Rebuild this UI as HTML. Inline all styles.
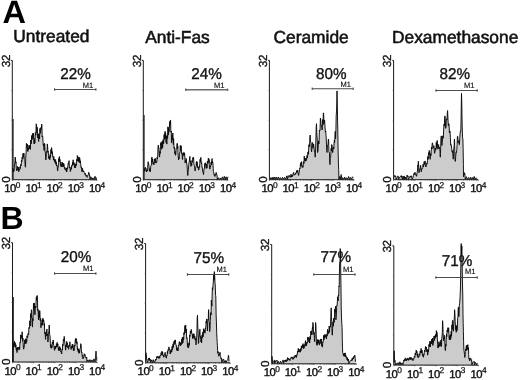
<!DOCTYPE html>
<html><head><meta charset="utf-8"><title>Figure</title>
<style>
html,body{margin:0;padding:0;background:#fff;}
body{width:520px;height:380px;overflow:hidden;position:relative;font-family:"Liberation Sans",sans-serif;}
</style></head><body>
<svg width="520" height="380" viewBox="0 0 520 380" style="position:absolute;left:0;top:0;display:block;will-change:transform">
<rect x="0" y="0" width="520" height="380" fill="#fff"/>
<g font-family="'Liberation Sans', sans-serif" fill="#111" text-rendering="geometricPrecision">
<text x="2.4" y="22.9" font-size="32.5" font-weight="bold" fill="#000">A</text>
<text x="0.6" y="229.1" font-size="32" font-weight="bold" fill="#000">B</text>
<text x="13.3" y="42" font-size="17.35" stroke="#111" stroke-width="0.55">Untreated</text>
<text x="145.2" y="43" font-size="17.35" stroke="#111" stroke-width="0.55">Anti-Fas</text>
<text x="273.5" y="42.8" font-size="17.35" stroke="#111" stroke-width="0.55">Ceramide</text>
<text x="392" y="42.7" font-size="17.35" stroke="#111" stroke-width="0.55">Dexamethasone</text>
<path d="M12.6 179.7L12.6 169.1L12.9 168.1L13.2 171.8L13.6 169L13.9 171.3L14.2 169.3L14.5 163.8L14.8 163.8L15.1 157.5L15.4 157.1L15.7 163.1L16 161.9L16.3 168.7L16.7 170.6L16.9 168.8L17.2 170.3L17.5 166.4L17.8 167.2L18.1 169.3L18.4 167L18.7 171.8L19 170.9L19.4 169.5L19.7 170L20 166.8L20.3 168.5L20.6 164.6L20.9 165.4L21.2 165.7L21.5 159.9L21.8 161.8L22.1 157.2L22.4 158L22.7 159L23 153.4L23.3 157.3L23.7 153.4L24 153L24.3 159.8L24.6 160.3L24.9 160.9L25.2 166.5L25.5 167.2L25.8 156.1L26.1 153.2L26.4 143.3L26.7 143.7L27 147.5L27.3 144.2L27.6 151.2L27.9 151.6L28.2 148.3L28.5 149.9L28.9 145.2L29.2 146.1L29.5 148.6L29.8 145.5L30.1 148.8L30.4 149.4L30.7 140.1L31 141.5L31.3 143.7L31.6 135.5L31.9 139.6L32.2 139.6L32.6 133.5L32.9 133.2L33.2 138.6L33.5 133.4L33.8 139.6L34.1 144L34.4 138.6L34.7 143.3L35 142.7L35.3 132.6L35.6 134.1L35.9 135.2L36.2 123.8L36.5 124.9L36.9 133L37.2 127.2L37.5 133.7L37.8 138L38.1 133.8L38.4 139.6L38.7 141.5L39 133.6L39.3 135.6L39.6 138.8L39.9 128.5L40.2 132.3L40.5 133.3L40.8 127.6L41.1 129.5L41.4 128.5L41.7 124L41.9 126.1L42.2 137L42.4 135.9L42.7 136.4L43 141.5L43.3 145.5L43.6 144L43.9 148.8L44.2 150.5L44.5 143.3L44.8 144.2L45.1 151.7L45.4 152.9L45.8 159.9L46.1 158.5L46.4 151.3L46.7 151.6L47 152.3L47.3 143.9L47.6 146.1L47.9 152.2L48.2 151.2L48.5 155.3L48.8 158.6L49.1 156.3L49.4 158L49.8 159.8L50.1 154.5L50.4 157.5L50.7 152.9L51 149.3L51.3 153.6L51.6 147.6L51.8 149.8L52.1 153.3L52.4 151.7L52.7 156.1L52.9 157.1L53.2 156.5L53.5 160L53.8 156.7L54 159.9L54.4 161.2L54.7 159.2L55 162.7L55.3 161.4L55.6 159.6L55.9 164.4L56.2 161.8L56.5 165.8L56.8 165.4L57.1 165.1L57.4 169.6L57.7 170.9L58 167.4L58.2 167.4L58.5 162.6L58.7 158.6L59 161.9L59.2 157.1L59.5 156.6L59.7 161.3L60 159.5L60.3 163.6L60.6 165.4L60.9 162L61.1 167L61.4 165.4L61.7 164.1L62.1 166.7L62.4 162.1L62.7 164.5L63 167L63.3 163.2L63.6 166.3L63.9 163.9L64.2 166.3L64.5 168.6L64.8 167.2L65.1 169.6L65.5 169.1L65.8 168.7L66 170.6L66.3 168L66.6 172L66.9 170.9L67.2 167.7L67.5 169.1L67.9 165.4L68.2 163.4L68.5 164.2L68.8 161.7L69.1 160.7L69.4 168L69.7 167.2L70 166.9L70.3 171.5L70.6 170.9L70.9 167.7L71.3 169.2L71.6 165.6L71.9 165.4L72.2 166.2L72.5 162.3L72.8 165L73.1 159.8L73.4 161.7L73.7 164.6L74 162.6L74.3 165.4L74.6 167.7L74.9 164.2L75.2 167.2L75.5 167.9L75.9 163.7L76.2 165.6L76.5 161.4L76.8 159.3L77.1 161.3L77.3 155.5L77.6 157.1L77.9 161L78.2 156.8L78.4 161.3L78.7 161.4L79 159L79.3 162.6L79.5 157.4L79.8 158L80.1 162.5L80.4 160.8L80.7 164.5L81.1 167.5L81.4 166.9L81.7 169.1L82 171.7L82.3 168L82.5 171.3L82.8 169.7L83.1 170.6L83.5 171.6L83.8 171L84.1 172.6L84.4 172.8L84.7 172.9L85.1 174.7L85.4 173.4L85.7 174.6L86 176.3L86.3 175.2L86.6 176.4L86.9 176.5L87.2 177.4L87.5 176.7L87.8 175.1L88.1 174.6L88.4 174.5L88.7 172.3L89 172.8L89.3 175.3L89.6 174.9L90 179.5L90.8 176.7L92 179.5L92.9 177.8L94 179.5L95 176.3L96.1 179.5L96.4 177.6L96.4 179.7Z" fill="#cccccc" stroke="none"/>
<path d="M12.6 169.1L12.9 168.1L13.2 171.8L13.6 169L13.9 171.3L14.2 169.3L14.5 163.8L14.8 163.8L15.1 157.5L15.4 157.1L15.7 163.1L16 161.9L16.3 168.7L16.7 170.6L16.9 168.8L17.2 170.3L17.5 166.4L17.8 167.2L18.1 169.3L18.4 167L18.7 171.8L19 170.9L19.4 169.5L19.7 170L20 166.8L20.3 168.5L20.6 164.6L20.9 165.4L21.2 165.7L21.5 159.9L21.8 161.8L22.1 157.2L22.4 158L22.7 159L23 153.4L23.3 157.3L23.7 153.4L24 153L24.3 159.8L24.6 160.3L24.9 160.9L25.2 166.5L25.5 167.2L25.8 156.1L26.1 153.2L26.4 143.3L26.7 143.7L27 147.5L27.3 144.2L27.6 151.2L27.9 151.6L28.2 148.3L28.5 149.9L28.9 145.2L29.2 146.1L29.5 148.6L29.8 145.5L30.1 148.8L30.4 149.4L30.7 140.1L31 141.5L31.3 143.7L31.6 135.5L31.9 139.6L32.2 139.6L32.6 133.5L32.9 133.2L33.2 138.6L33.5 133.4L33.8 139.6L34.1 144L34.4 138.6L34.7 143.3L35 142.7L35.3 132.6L35.6 134.1L35.9 135.2L36.2 123.8L36.5 124.9L36.9 133L37.2 127.2L37.5 133.7L37.8 138L38.1 133.8L38.4 139.6L38.7 141.5L39 133.6L39.3 135.6L39.6 138.8L39.9 128.5L40.2 132.3L40.5 133.3L40.8 127.6L41.1 129.5L41.4 128.5L41.7 124L41.9 126.1L42.2 137L42.4 135.9L42.7 136.4L43 141.5L43.3 145.5L43.6 144L43.9 148.8L44.2 150.5L44.5 143.3L44.8 144.2L45.1 151.7L45.4 152.9L45.8 159.9L46.1 158.5L46.4 151.3L46.7 151.6L47 152.3L47.3 143.9L47.6 146.1L47.9 152.2L48.2 151.2L48.5 155.3L48.8 158.6L49.1 156.3L49.4 158L49.8 159.8L50.1 154.5L50.4 157.5L50.7 152.9L51 149.3L51.3 153.6L51.6 147.6L51.8 149.8L52.1 153.3L52.4 151.7L52.7 156.1L52.9 157.1L53.2 156.5L53.5 160L53.8 156.7L54 159.9L54.4 161.2L54.7 159.2L55 162.7L55.3 161.4L55.6 159.6L55.9 164.4L56.2 161.8L56.5 165.8L56.8 165.4L57.1 165.1L57.4 169.6L57.7 170.9L58 167.4L58.2 167.4L58.5 162.6L58.7 158.6L59 161.9L59.2 157.1L59.5 156.6L59.7 161.3L60 159.5L60.3 163.6L60.6 165.4L60.9 162L61.1 167L61.4 165.4L61.7 164.1L62.1 166.7L62.4 162.1L62.7 164.5L63 167L63.3 163.2L63.6 166.3L63.9 163.9L64.2 166.3L64.5 168.6L64.8 167.2L65.1 169.6L65.5 169.1L65.8 168.7L66 170.6L66.3 168L66.6 172L66.9 170.9L67.2 167.7L67.5 169.1L67.9 165.4L68.2 163.4L68.5 164.2L68.8 161.7L69.1 160.7L69.4 168L69.7 167.2L70 166.9L70.3 171.5L70.6 170.9L70.9 167.7L71.3 169.2L71.6 165.6L71.9 165.4L72.2 166.2L72.5 162.3L72.8 165L73.1 159.8L73.4 161.7L73.7 164.6L74 162.6L74.3 165.4L74.6 167.7L74.9 164.2L75.2 167.2L75.5 167.9L75.9 163.7L76.2 165.6L76.5 161.4L76.8 159.3L77.1 161.3L77.3 155.5L77.6 157.1L77.9 161L78.2 156.8L78.4 161.3L78.7 161.4L79 159L79.3 162.6L79.5 157.4L79.8 158L80.1 162.5L80.4 160.8L80.7 164.5L81.1 167.5L81.4 166.9L81.7 169.1L82 171.7L82.3 168L82.5 171.3L82.8 169.7L83.1 170.6L83.5 171.6L83.8 171L84.1 172.6L84.4 172.8L84.7 172.9L85.1 174.7L85.4 173.4L85.7 174.6L86 176.3L86.3 175.2L86.6 176.4L86.9 176.5L87.2 177.4L87.5 176.7L87.8 175.1L88.1 174.6L88.4 174.5L88.7 172.3L89 172.8L89.3 175.3L89.6 174.9L90 179.5L90.8 176.7L92 179.5L92.9 177.8L94 179.5L95 176.3L96.1 179.5L96.4 177.6" fill="none" stroke="#0a0a0a" stroke-width="0.95" stroke-linejoin="miter" stroke-miterlimit="5"/>
<path d="M10.9 60.4L12.3 60.4L12.3 179.7L96.9 179.7" fill="none" stroke="#1a1a1a" stroke-width="1"/>
<path d="M13.1 119L13.1 179.7" stroke="#111" stroke-width="1" fill="none"/>
<path d="M11.4 150L12.3 150" stroke="#444" stroke-width="0.7"/>
<path d="M11.4 120.2L12.3 120.2" stroke="#444" stroke-width="0.7"/>
<path d="M11.4 90.5L12.3 90.5" stroke="#444" stroke-width="0.7"/>
<path d="M12.3 179.7L12.3 181M18.7 179.7L18.7 180.5M22.4 179.7L22.4 180.5M25 179.7L25 180.5M27.1 179.7L27.1 180.5M28.8 179.7L28.8 180.5M30.2 179.7L30.2 180.5M31.4 179.7L31.4 180.5M32.5 179.7L32.5 180.5M33.5 179.7L33.5 181M39.8 179.7L39.8 180.5M43.5 179.7L43.5 180.5M46.2 179.7L46.2 180.5M48.2 179.7L48.2 180.5M49.9 179.7L49.9 180.5M51.3 179.7L51.3 180.5M52.6 179.7L52.6 180.5M53.6 179.7L53.6 180.5M54.6 179.7L54.6 181M61 179.7L61 180.5M64.7 179.7L64.7 180.5M67.3 179.7L67.3 180.5M69.4 179.7L69.4 180.5M71.1 179.7L71.1 180.5M72.5 179.7L72.5 180.5M73.7 179.7L73.7 180.5M74.8 179.7L74.8 180.5M75.8 179.7L75.8 181M82.1 179.7L82.1 180.5M85.8 179.7L85.8 180.5M88.5 179.7L88.5 180.5M90.5 179.7L90.5 180.5M92.2 179.7L92.2 180.5M93.6 179.7L93.6 180.5M94.9 179.7L94.9 180.5M95.9 179.7L95.9 180.5M96.9 179.7L96.9 181" stroke="#333" stroke-width="0.6" fill="none"/>
<text x="4.3" y="192.2" font-size="11.3" letter-spacing="-0.5" stroke="#111" stroke-width="0.4">10<tspan font-size="8.4" dy="-4.2" dx="-0.1" stroke-width="0.25">0</tspan></text>
<text x="25.5" y="192.2" font-size="11.3" letter-spacing="-0.5" stroke="#111" stroke-width="0.4">10<tspan font-size="8.4" dy="-4.2" dx="-0.1" stroke-width="0.25">1</tspan></text>
<text x="46.6" y="192.2" font-size="11.3" letter-spacing="-0.5" stroke="#111" stroke-width="0.4">10<tspan font-size="8.4" dy="-4.2" dx="-0.1" stroke-width="0.25">2</tspan></text>
<text x="67.8" y="192.2" font-size="11.3" letter-spacing="-0.5" stroke="#111" stroke-width="0.4">10<tspan font-size="8.4" dy="-4.2" dx="-0.1" stroke-width="0.25">3</tspan></text>
<text x="88.9" y="192.2" font-size="11.3" letter-spacing="-0.5" stroke="#111" stroke-width="0.4">10<tspan font-size="8.4" dy="-4.2" dx="-0.1" stroke-width="0.25">4</tspan></text>
<text transform="translate(9.6 179.6) rotate(-90)" font-size="11.6" text-anchor="middle" stroke="#111" stroke-width="0.3">0</text>
<text transform="translate(9.7 61) rotate(-90)" font-size="11.7" text-anchor="middle" letter-spacing="-0.3" stroke="#111" stroke-width="0.3">32</text>
<text transform="translate(60.2 79) scale(0.976 1)" font-size="15.65" stroke="#111" stroke-width="0.35">22%</text>
<path d="M54.3 89.5L96.2 89.5M54.6 88.2L54.6 90.8M95.9 88.2L95.9 90.8" stroke="#3a3a3a" stroke-width="0.9" fill="none"/>
<text x="82.8" y="87.7" font-size="7.5" fill="#111" stroke="#111" stroke-width="0.15">M1</text>
<path d="M143.6 179.7L144.2 170.9L144.5 168.6L144.8 171.4L145.1 167.7L145.4 167.2L145.8 169.1L146.1 168.7L146.4 171.3L146.7 172L147 169.6L147.3 170.9L147.6 169.5L147.9 164.2L148.2 161.7L148.5 164.7L148.8 164.3L149.1 167.2L149.4 170.9L149.7 168.8L150 171.9L150.4 171.5L150.7 166.7L151 165.4L151.3 165.3L151.6 159.2L151.9 157.1L152.2 162L152.5 158.8L152.8 162.6L153.1 164.3L153.4 162.2L153.7 163.6L154 164.8L154.3 159L154.7 160.3L155 162.6L155.3 158.2L155.6 161.7L155.9 163.1L156.2 161.6L156.5 162.6L156.8 162.1L157.1 157.4L157.4 159L157.7 155.9L158 147.8L158.3 145.1L158.6 148.3L158.8 147.8L159.1 151.6L159.3 155.8L159.6 157.1L159.9 151.2L160.2 153.5L160.5 145.7L160.7 143.3L161 145.5L161.2 142L161.5 146.1L161.7 149.3L162 145.1L162.3 141L162.6 147.9L162.9 142.4L163.2 139.5L163.6 143.8L163.9 139.6L164.1 134.6L164.4 139.4L164.6 135L164.9 131.9L165.2 131.3L165.4 138.7L165.6 133.1L165.9 137.8L166.1 142.6L166.4 136.1L166.6 142.4L166.9 144.1L167.1 135.5L167.4 135L167.6 138.4L167.9 126.8L168.1 130.4L168.3 135.1L168.6 127.6L168.8 132.3L169.1 131.8L169.4 128.6L169.7 121.6L170 125.3L170.3 120.3L170.6 120.2L170.8 130L171 132.3L171.3 131.1L171.5 142.8L171.8 141.5L172 135.4L172.3 139.9L172.5 136.9L172.8 133L173.1 137.8L173.3 144.4L173.6 138.7L173.8 143.3L174.1 148.4L174.4 147L174.6 148L174.9 153.9L175.2 151.4L175.5 155.3L175.8 154L176.1 148.5L176.4 148.8L176.7 148.4L177 143.6L177.3 143.3L177.6 148.7L177.8 146.2L178 152.5L178.3 157.2L178.6 159.9L178.9 157.2L179.1 158.7L179.4 152.9L179.7 152.5L180 152.6L180.3 145.4L180.7 151L181 146.1L181.2 145.8L181.5 153.5L181.7 153.4L182 152.8L182.3 158L182.6 159.5L182.9 153.1L183.2 154.4L183.5 155.4L183.8 152.3L184.1 152.5L184.4 155.2L184.6 153.4L184.9 158L185.1 162.9L185.4 161.7L185.7 160.3L186 162.7L186.2 158.4L186.5 160.8L186.8 164.5L187 164.5L187.3 169.1L187.5 173.1L187.8 175.5L188.1 171.7L188.4 169.7L188.7 165.4L189 162.4L189.3 161.6L189.6 158L189.9 156.4L190.1 161.9L190.4 162.6L190.6 160.9L190.9 166.4L191.1 165.4L191.4 163.1L191.7 165.4L191.9 160.5L192.2 160.8L192.5 162.3L192.8 157.8L193.1 159.3L193.3 157.1L193.6 157.8L193.9 163.5L194.2 165.4L194.6 166L194.9 170.7L195.2 170.9L195.5 168.2L195.8 168.1L196.1 165.4L196.4 161.6L196.7 165.6L197 161.7L197.3 162.3L197.6 167.8L197.9 167.2L198.2 166.9L198.5 170L198.9 170L199.2 166.4L199.5 167.3L199.8 163.6L200.1 159.3L200.4 162.1L200.7 158L200.9 157.4L201.2 162.4L201.4 163.6L201.7 162.6L201.9 167.4L202.2 167.2L202.4 168.2L202.7 171L202.9 171.9L203.2 172.9L203.5 174.6L203.7 173L203.9 169.4L204.2 168.2L204.4 168.4L204.7 163.5L204.9 163.6L205.2 165.2L205.5 162.8L205.9 166.3L206.2 168.5L206.5 164.4L206.8 167.2L207.1 168.1L207.4 161L207.7 161.7L208 163.4L208.3 158.4L208.6 158L208.9 162.3L209.1 159.4L209.3 164.5L209.6 168L209.9 169.1L210.2 166.2L210.5 167.1L210.8 164.5L211.1 162.1L211.4 164.8L211.7 160.8L212.1 158.6L212.4 162.9L212.7 161.7L212.9 163L213.2 168.2L213.4 171.5L213.6 172.8L213.9 172.8L214.2 175.3L214.6 174.5L214.9 176.5L215.1 176.2L215.4 174.1L215.6 174.2L215.9 174.5L216.1 172.4L216.3 172.8L216.6 174.5L216.8 174.4L217.1 176.1L217.3 179.5L218.2 177.7L219.3 179.5L220.4 177.9L221.4 179.5L222.4 176.9L223.4 179.5L224.3 176.4L225.2 179.5L226.1 176.8L227.1 179.5L228 176.8L228 179.7Z" fill="#cccccc" stroke="none"/>
<path d="M144.2 170.9L144.5 168.6L144.8 171.4L145.1 167.7L145.4 167.2L145.8 169.1L146.1 168.7L146.4 171.3L146.7 172L147 169.6L147.3 170.9L147.6 169.5L147.9 164.2L148.2 161.7L148.5 164.7L148.8 164.3L149.1 167.2L149.4 170.9L149.7 168.8L150 171.9L150.4 171.5L150.7 166.7L151 165.4L151.3 165.3L151.6 159.2L151.9 157.1L152.2 162L152.5 158.8L152.8 162.6L153.1 164.3L153.4 162.2L153.7 163.6L154 164.8L154.3 159L154.7 160.3L155 162.6L155.3 158.2L155.6 161.7L155.9 163.1L156.2 161.6L156.5 162.6L156.8 162.1L157.1 157.4L157.4 159L157.7 155.9L158 147.8L158.3 145.1L158.6 148.3L158.8 147.8L159.1 151.6L159.3 155.8L159.6 157.1L159.9 151.2L160.2 153.5L160.5 145.7L160.7 143.3L161 145.5L161.2 142L161.5 146.1L161.7 149.3L162 145.1L162.3 141L162.6 147.9L162.9 142.4L163.2 139.5L163.6 143.8L163.9 139.6L164.1 134.6L164.4 139.4L164.6 135L164.9 131.9L165.2 131.3L165.4 138.7L165.6 133.1L165.9 137.8L166.1 142.6L166.4 136.1L166.6 142.4L166.9 144.1L167.1 135.5L167.4 135L167.6 138.4L167.9 126.8L168.1 130.4L168.3 135.1L168.6 127.6L168.8 132.3L169.1 131.8L169.4 128.6L169.7 121.6L170 125.3L170.3 120.3L170.6 120.2L170.8 130L171 132.3L171.3 131.1L171.5 142.8L171.8 141.5L172 135.4L172.3 139.9L172.5 136.9L172.8 133L173.1 137.8L173.3 144.4L173.6 138.7L173.8 143.3L174.1 148.4L174.4 147L174.6 148L174.9 153.9L175.2 151.4L175.5 155.3L175.8 154L176.1 148.5L176.4 148.8L176.7 148.4L177 143.6L177.3 143.3L177.6 148.7L177.8 146.2L178 152.5L178.3 157.2L178.6 159.9L178.9 157.2L179.1 158.7L179.4 152.9L179.7 152.5L180 152.6L180.3 145.4L180.7 151L181 146.1L181.2 145.8L181.5 153.5L181.7 153.4L182 152.8L182.3 158L182.6 159.5L182.9 153.1L183.2 154.4L183.5 155.4L183.8 152.3L184.1 152.5L184.4 155.2L184.6 153.4L184.9 158L185.1 162.9L185.4 161.7L185.7 160.3L186 162.7L186.2 158.4L186.5 160.8L186.8 164.5L187 164.5L187.3 169.1L187.5 173.1L187.8 175.5L188.1 171.7L188.4 169.7L188.7 165.4L189 162.4L189.3 161.6L189.6 158L189.9 156.4L190.1 161.9L190.4 162.6L190.6 160.9L190.9 166.4L191.1 165.4L191.4 163.1L191.7 165.4L191.9 160.5L192.2 160.8L192.5 162.3L192.8 157.8L193.1 159.3L193.3 157.1L193.6 157.8L193.9 163.5L194.2 165.4L194.6 166L194.9 170.7L195.2 170.9L195.5 168.2L195.8 168.1L196.1 165.4L196.4 161.6L196.7 165.6L197 161.7L197.3 162.3L197.6 167.8L197.9 167.2L198.2 166.9L198.5 170L198.9 170L199.2 166.4L199.5 167.3L199.8 163.6L200.1 159.3L200.4 162.1L200.7 158L200.9 157.4L201.2 162.4L201.4 163.6L201.7 162.6L201.9 167.4L202.2 167.2L202.4 168.2L202.7 171L202.9 171.9L203.2 172.9L203.5 174.6L203.7 173L203.9 169.4L204.2 168.2L204.4 168.4L204.7 163.5L204.9 163.6L205.2 165.2L205.5 162.8L205.9 166.3L206.2 168.5L206.5 164.4L206.8 167.2L207.1 168.1L207.4 161L207.7 161.7L208 163.4L208.3 158.4L208.6 158L208.9 162.3L209.1 159.4L209.3 164.5L209.6 168L209.9 169.1L210.2 166.2L210.5 167.1L210.8 164.5L211.1 162.1L211.4 164.8L211.7 160.8L212.1 158.6L212.4 162.9L212.7 161.7L212.9 163L213.2 168.2L213.4 171.5L213.6 172.8L213.9 172.8L214.2 175.3L214.6 174.5L214.9 176.5L215.1 176.2L215.4 174.1L215.6 174.2L215.9 174.5L216.1 172.4L216.3 172.8L216.6 174.5L216.8 174.4L217.1 176.1L217.3 179.5L218.2 177.7L219.3 179.5L220.4 177.9L221.4 179.5L222.4 176.9L223.4 179.5L224.3 176.4L225.2 179.5L226.1 176.8L227.1 179.5L228 176.8" fill="none" stroke="#0a0a0a" stroke-width="0.95" stroke-linejoin="miter" stroke-miterlimit="5"/>
<path d="M141.9 60.4L143.3 60.4L143.3 179.7L227.9 179.7" fill="none" stroke="#1a1a1a" stroke-width="1"/>
<path d="M144.1 115L144.1 179.7" stroke="#111" stroke-width="1" fill="none"/>
<path d="M142.4 150L143.3 150" stroke="#444" stroke-width="0.7"/>
<path d="M142.4 120.2L143.3 120.2" stroke="#444" stroke-width="0.7"/>
<path d="M142.4 90.5L143.3 90.5" stroke="#444" stroke-width="0.7"/>
<path d="M143.3 179.7L143.3 181M149.7 179.7L149.7 180.5M153.4 179.7L153.4 180.5M156 179.7L156 180.5M158.1 179.7L158.1 180.5M159.8 179.7L159.8 180.5M161.2 179.7L161.2 180.5M162.4 179.7L162.4 180.5M163.5 179.7L163.5 180.5M164.5 179.7L164.5 181M170.8 179.7L170.8 180.5M174.5 179.7L174.5 180.5M177.2 179.7L177.2 180.5M179.2 179.7L179.2 180.5M180.9 179.7L180.9 180.5M182.3 179.7L182.3 180.5M183.6 179.7L183.6 180.5M184.6 179.7L184.6 180.5M185.6 179.7L185.6 181M192 179.7L192 180.5M195.7 179.7L195.7 180.5M198.3 179.7L198.3 180.5M200.4 179.7L200.4 180.5M202.1 179.7L202.1 180.5M203.5 179.7L203.5 180.5M204.7 179.7L204.7 180.5M205.8 179.7L205.8 180.5M206.8 179.7L206.8 181M213.1 179.7L213.1 180.5M216.8 179.7L216.8 180.5M219.5 179.7L219.5 180.5M221.5 179.7L221.5 180.5M223.2 179.7L223.2 180.5M224.6 179.7L224.6 180.5M225.9 179.7L225.9 180.5M226.9 179.7L226.9 180.5M227.9 179.7L227.9 181" stroke="#333" stroke-width="0.6" fill="none"/>
<text x="135.3" y="192.2" font-size="11.3" letter-spacing="-0.5" stroke="#111" stroke-width="0.4">10<tspan font-size="8.4" dy="-4.2" dx="-0.1" stroke-width="0.25">0</tspan></text>
<text x="156.5" y="192.2" font-size="11.3" letter-spacing="-0.5" stroke="#111" stroke-width="0.4">10<tspan font-size="8.4" dy="-4.2" dx="-0.1" stroke-width="0.25">1</tspan></text>
<text x="177.6" y="192.2" font-size="11.3" letter-spacing="-0.5" stroke="#111" stroke-width="0.4">10<tspan font-size="8.4" dy="-4.2" dx="-0.1" stroke-width="0.25">2</tspan></text>
<text x="198.8" y="192.2" font-size="11.3" letter-spacing="-0.5" stroke="#111" stroke-width="0.4">10<tspan font-size="8.4" dy="-4.2" dx="-0.1" stroke-width="0.25">3</tspan></text>
<text x="219.9" y="192.2" font-size="11.3" letter-spacing="-0.5" stroke="#111" stroke-width="0.4">10<tspan font-size="8.4" dy="-4.2" dx="-0.1" stroke-width="0.25">4</tspan></text>
<text transform="translate(140.6 179.6) rotate(-90)" font-size="11.6" text-anchor="middle" stroke="#111" stroke-width="0.3">0</text>
<text transform="translate(140.7 61) rotate(-90)" font-size="11.7" text-anchor="middle" letter-spacing="-0.3" stroke="#111" stroke-width="0.3">32</text>
<text transform="translate(191.3 79.4) scale(0.976 1)" font-size="15.65" stroke="#111" stroke-width="0.35">24%</text>
<path d="M185.4 89.8L227.9 89.8M185.7 88.5L185.7 91.1M227.6 88.5L227.6 91.1" stroke="#6a6a6a" stroke-width="1.4" fill="none"/>
<text x="214.1" y="87.7" font-size="7.5" fill="#111" stroke="#111" stroke-width="0.15">M1</text>
<path d="M269.7 179.7L269.9 179.5L271 177.5L272.1 179.5L273 177L273.9 179.5L274.9 177L275.7 179.5L276.6 177L277.6 179.5L278.5 177L279.5 179.5L280.5 177.7L281.6 179.5L282.5 177.3L283.5 179.5L284.6 177.3L285.6 179.5L286.7 176.4L286.7 177.1L287 175.8L287.3 179.5L288.2 176.7L288.7 177.3L289 175.2L289.3 175.4L289.7 176.8L290 177L290.3 176.3L290.6 177.3L291 174.2L291.3 175.2L291.6 177.1L292 175L292.3 176.6L292.6 176.2L292.9 174.2L293.1 174.1L293.4 172.7L293.7 172.3L294.1 175.3L294.4 175L294.7 174.3L295.1 174.9L295.4 174.1L295.7 172.9L296.1 173.4L296.4 172L296.7 170.6L297.1 172.5L297.4 170L297.8 170.7L298.1 173L298.4 175.3L298.7 175.4L299 172.7L299.2 172.4L299.5 169.3L299.8 168L300.1 168.5L300.5 163.4L300.8 162.6L301.1 165.9L301.5 161.7L301.8 165.5L302.1 167.3L302.5 165.8L302.8 167.3L303.1 167.3L303.4 161.6L303.7 162L304 163.5L304.2 156.2L304.5 157.9L304.8 161L305 158.1L305.3 160L305.6 161.3L305.9 158.2L306.2 159.3L306.5 160.4L306.9 155.5L307.2 156L307.5 157.8L307.9 151.9L308.2 152.5L308.4 154.4L308.7 149L308.9 144.7L309.2 146.5L309.5 146.9L309.9 136.7L310.2 135L310.5 141.2L310.8 143L311.1 143.5L311.3 149.8L311.6 151.8L312 146L312.3 142.4L312.6 143.1L313 148.3L313.3 146L313.6 143.9L314 147.2L314.3 151.1L314.6 152L314.9 153L315.2 157.2L315.5 152.2L315.9 140L316.2 127.2L316.5 123.7L316.8 132.6L317.1 138L317.4 141.7L317.6 152.5L317.9 151L318.2 147L318.4 140.9L318.7 143.1L319 143.9L319.4 130L319.7 131L320 130.8L320.4 118.1L320.7 120L321 125.7L321.4 126L321.7 125.4L322 130L322.3 129.2L322.5 119.6L322.8 121L323.1 124.8L323.3 112.9L323.6 113L324 123.2L324.3 120L324.6 120.5L325 127L325.4 132.1L325.7 131L326 134.6L326.4 142L326.7 149L327 152.5L327.4 145.8L327.7 145L328 144.3L328.4 139L328.7 140.9L328.9 151.8L329.2 152L329.5 153.8L329.7 162.1L330 164.6L330.3 158.5L330.6 157.6L330.9 153L331.2 148.1L331.4 151L331.7 144.5L332 144.8L332.3 149L332.6 152.5L332.8 152.5L333.1 147.8L333.5 147L333.8 148.9L334.1 143.1L334.4 140.1L334.6 142.7L334.9 138L335.2 131.5L335.6 138.7L335.9 131L336.2 115.8L336.6 110L336.8 101.8L337 90.9L337.2 98.3L337.4 110L337.6 121.1L337.8 131L338.1 150L338.5 166L338.7 169.6L338.9 179.5L339.8 176.4L340.8 179.5L340.8 176.9L341.1 174.5L341.5 175.7L341.8 179.5L342.7 177.7L343.8 179.5L344.7 177.1L345.6 179.5L346.6 177.8L347.6 179.5L348.6 176.5L349.5 179.5L350.4 177.4L351.5 179.5L352.5 176.8L353.3 177.6L353.3 179.7Z" fill="#cccccc" stroke="none"/>
<path d="M269.9 179.5L271 177.5L272.1 179.5L273 177L273.9 179.5L274.9 177L275.7 179.5L276.6 177L277.6 179.5L278.5 177L279.5 179.5L280.5 177.7L281.6 179.5L282.5 177.3L283.5 179.5L284.6 177.3L285.6 179.5L286.7 176.4L286.7 177.1L287 175.8L287.3 179.5L288.2 176.7L288.7 177.3L289 175.2L289.3 175.4L289.7 176.8L290 177L290.3 176.3L290.6 177.3L291 174.2L291.3 175.2L291.6 177.1L292 175L292.3 176.6L292.6 176.2L292.9 174.2L293.1 174.1L293.4 172.7L293.7 172.3L294.1 175.3L294.4 175L294.7 174.3L295.1 174.9L295.4 174.1L295.7 172.9L296.1 173.4L296.4 172L296.7 170.6L297.1 172.5L297.4 170L297.8 170.7L298.1 173L298.4 175.3L298.7 175.4L299 172.7L299.2 172.4L299.5 169.3L299.8 168L300.1 168.5L300.5 163.4L300.8 162.6L301.1 165.9L301.5 161.7L301.8 165.5L302.1 167.3L302.5 165.8L302.8 167.3L303.1 167.3L303.4 161.6L303.7 162L304 163.5L304.2 156.2L304.5 157.9L304.8 161L305 158.1L305.3 160L305.6 161.3L305.9 158.2L306.2 159.3L306.5 160.4L306.9 155.5L307.2 156L307.5 157.8L307.9 151.9L308.2 152.5L308.4 154.4L308.7 149L308.9 144.7L309.2 146.5L309.5 146.9L309.9 136.7L310.2 135L310.5 141.2L310.8 143L311.1 143.5L311.3 149.8L311.6 151.8L312 146L312.3 142.4L312.6 143.1L313 148.3L313.3 146L313.6 143.9L314 147.2L314.3 151.1L314.6 152L314.9 153L315.2 157.2L315.5 152.2L315.9 140L316.2 127.2L316.5 123.7L316.8 132.6L317.1 138L317.4 141.7L317.6 152.5L317.9 151L318.2 147L318.4 140.9L318.7 143.1L319 143.9L319.4 130L319.7 131L320 130.8L320.4 118.1L320.7 120L321 125.7L321.4 126L321.7 125.4L322 130L322.3 129.2L322.5 119.6L322.8 121L323.1 124.8L323.3 112.9L323.6 113L324 123.2L324.3 120L324.6 120.5L325 127L325.4 132.1L325.7 131L326 134.6L326.4 142L326.7 149L327 152.5L327.4 145.8L327.7 145L328 144.3L328.4 139L328.7 140.9L328.9 151.8L329.2 152L329.5 153.8L329.7 162.1L330 164.6L330.3 158.5L330.6 157.6L330.9 153L331.2 148.1L331.4 151L331.7 144.5L332 144.8L332.3 149L332.6 152.5L332.8 152.5L333.1 147.8L333.5 147L333.8 148.9L334.1 143.1L334.4 140.1L334.6 142.7L334.9 138L335.2 131.5L335.6 138.7L335.9 131L336.2 115.8L336.6 110L336.8 101.8L337 90.9L337.2 98.3L337.4 110L337.6 121.1L337.8 131L338.1 150L338.5 166L338.7 169.6L338.9 179.5L339.8 176.4L340.8 179.5L340.8 176.9L341.1 174.5L341.5 175.7L341.8 179.5L342.7 177.7L343.8 179.5L344.7 177.1L345.6 179.5L346.6 177.8L347.6 179.5L348.6 176.5L349.5 179.5L350.4 177.4L351.5 179.5L352.5 176.8L353.3 177.6" fill="none" stroke="#0a0a0a" stroke-width="0.95" stroke-linejoin="miter" stroke-miterlimit="5"/>
<path d="M268 60.4L269.4 60.4L269.4 179.7L354 179.7" fill="none" stroke="#1a1a1a" stroke-width="1"/>
<path d="M268.5 150L269.4 150" stroke="#444" stroke-width="0.7"/>
<path d="M268.5 120.2L269.4 120.2" stroke="#444" stroke-width="0.7"/>
<path d="M268.5 90.5L269.4 90.5" stroke="#444" stroke-width="0.7"/>
<path d="M269.4 179.7L269.4 181M275.8 179.7L275.8 180.5M279.5 179.7L279.5 180.5M282.1 179.7L282.1 180.5M284.2 179.7L284.2 180.5M285.9 179.7L285.9 180.5M287.3 179.7L287.3 180.5M288.5 179.7L288.5 180.5M289.6 179.7L289.6 180.5M290.5 179.7L290.5 181M296.9 179.7L296.9 180.5M300.6 179.7L300.6 180.5M303.3 179.7L303.3 180.5M305.3 179.7L305.3 180.5M307 179.7L307 180.5M308.4 179.7L308.4 180.5M309.7 179.7L309.7 180.5M310.7 179.7L310.7 180.5M311.7 179.7L311.7 181M318.1 179.7L318.1 180.5M321.8 179.7L321.8 180.5M324.4 179.7L324.4 180.5M326.5 179.7L326.5 180.5M328.2 179.7L328.2 180.5M329.6 179.7L329.6 180.5M330.8 179.7L330.8 180.5M331.9 179.7L331.9 180.5M332.8 179.7L332.8 181M339.2 179.7L339.2 180.5M342.9 179.7L342.9 180.5M345.6 179.7L345.6 180.5M347.6 179.7L347.6 180.5M349.3 179.7L349.3 180.5M350.7 179.7L350.7 180.5M352 179.7L352 180.5M353 179.7L353 180.5M354 179.7L354 181" stroke="#333" stroke-width="0.6" fill="none"/>
<text x="261.4" y="192.2" font-size="11.3" letter-spacing="-0.5" stroke="#111" stroke-width="0.4">10<tspan font-size="8.4" dy="-4.2" dx="-0.1" stroke-width="0.25">0</tspan></text>
<text x="282.5" y="192.2" font-size="11.3" letter-spacing="-0.5" stroke="#111" stroke-width="0.4">10<tspan font-size="8.4" dy="-4.2" dx="-0.1" stroke-width="0.25">1</tspan></text>
<text x="303.7" y="192.2" font-size="11.3" letter-spacing="-0.5" stroke="#111" stroke-width="0.4">10<tspan font-size="8.4" dy="-4.2" dx="-0.1" stroke-width="0.25">2</tspan></text>
<text x="324.8" y="192.2" font-size="11.3" letter-spacing="-0.5" stroke="#111" stroke-width="0.4">10<tspan font-size="8.4" dy="-4.2" dx="-0.1" stroke-width="0.25">3</tspan></text>
<text x="346" y="192.2" font-size="11.3" letter-spacing="-0.5" stroke="#111" stroke-width="0.4">10<tspan font-size="8.4" dy="-4.2" dx="-0.1" stroke-width="0.25">4</tspan></text>
<text transform="translate(266.7 179.6) rotate(-90)" font-size="11.6" text-anchor="middle" stroke="#111" stroke-width="0.3">0</text>
<text transform="translate(266.8 61) rotate(-90)" font-size="11.7" text-anchor="middle" letter-spacing="-0.3" stroke="#111" stroke-width="0.3">32</text>
<text transform="translate(316.1 79) scale(0.976 1)" font-size="15.65" stroke="#111" stroke-width="0.35">80%</text>
<path d="M311.9 88.8L353.5 88.8M312.2 87.5L312.2 90.1M353.2 87.5L353.2 90.1" stroke="#4a4a4a" stroke-width="1.05" fill="none"/>
<text x="340.6" y="87.3" font-size="7.5" fill="#111" stroke="#111" stroke-width="0.15">M1</text>
<path d="M393.9 179.7L393.8 176.8L394.1 176.5L394.5 176.8L394.8 175.3L395.1 175.8L395.4 176.5L395.8 176.1L396.1 179.5L397.2 177.7L397.6 176.7L397.9 175.9L398.2 176.1L398.5 179.5L399.6 177.2L400.7 176.8L401 175.6L401.3 175.8L401.6 177.1L401.9 175.9L402.2 179.5L403.1 176.3L404 179.5L404 176.1L404.3 176.1L404.6 179.5L405.5 177.2L406.3 179.5L406.8 176.6L407.1 175L407.4 175.8L407.7 176.8L408 175.9L408.3 179.5L409.4 177.9L410.1 176.1L410.4 176.1L410.8 177.3L411.1 175.9L411.4 176.4L411.7 175.8L412 179.5L413.1 177.4L413.3 176.6L413.6 175.4L414 173.4L414.3 174.6L414.7 172.7L415.1 172.2L415.4 174.7L415.8 174.7L416.1 174.4L416.4 176.3L416.7 176.1L417 172.8L417.2 172.4L417.5 170L417.8 165L418.1 166.5L418.3 161.3L418.5 162.4L418.7 168L418.9 172.6L419.1 172.7L419.5 169.2L419.8 168.7L420.1 169.4L420.5 165.3L420.7 165.3L421 168.7L421.2 171.9L421.4 171.4L421.8 168.6L422.1 169L422.4 168.7L422.8 167.3L423.1 164.2L423.5 166.8L423.8 164.6L424.2 161.6L424.5 164.5L424.8 162L425.1 160.9L425.5 164.6L425.8 167L426.1 166.7L426.5 163.4L426.8 163.3L427.1 164.1L427.5 160.6L427.8 156.5L428.1 159.4L428.4 155.2L428.7 152.5L429 155.2L429.2 150.5L429.5 151L429.8 155.2L430 158.8L430.2 159.3L430.5 153.5L430.9 155.8L431.2 151.2L431.6 147L431.9 149.1L432.2 143.1L432.5 142.9L432.9 145.5L433.2 148.2L433.5 147.2L433.9 145.7L434.2 149.8L434.5 153.3L434.9 152.5L435.2 148L435.6 150.3L436 147.8L436.3 142.3L436.6 148.3L436.9 143.1L437.2 140.5L437.6 146.1L437.9 149.2L438.2 148.5L438.6 144.5L438.9 147.4L439.3 148.6L439.6 147.2L439.8 147.1L440 152.5L440.3 157.2L440.5 153.7L440.7 147.2L440.9 139.1L441.3 135.9L441.6 141.1L441.9 145.6L442.3 142.4L442.6 136L443 136.4L443.3 138.2L443.6 131L443.9 125.4L444.1 124L444.4 126.1L444.7 116.3L445 115.9L445.4 122L445.7 128.3L446 126L446.4 118.8L446.7 119L447 119.8L447.3 113L447.6 110.6L448 120L448.3 125.7L448.6 125L448.9 123.7L449.2 128L449.4 132.8L449.7 131L450 130.9L450.4 137.7L450.7 145.3L451 144.5L451.4 145.4L451.7 148.5L452 151.6L452.4 152.5L452.6 150.7L452.9 155.5L453.2 159.2L453.5 157.9L453.7 149.4L454 147.2L454.2 145.5L454.4 139.1L454.6 141.2L454.8 151.2L455.1 161.3L455.4 161.3L455.7 156.6L456.1 152L456.4 152.5L456.8 149.7L457.1 144.5L457.4 136.4L457.8 136.4L458.1 142.6L458.4 141.1L458.8 140.7L459.1 144.5L459.4 144.7L459.8 137.7L460.1 133.2L460.5 131L460.8 131L461.1 118L461.3 104L461.5 93.4L461.8 104L462 118L462.3 131L462.6 137.8L462.9 139.1L463.1 147.2L463.4 164.6L463.5 176.8L463.8 174.3L464.1 174.1L464.3 174.6L464.5 172.7L464.8 173.5L465 176.1L465.3 179.5L466.4 176.7L467.3 179.5L468.5 177.5L469.5 179.5L470.4 177.3L471.3 179.5L472.2 177.4L473.2 179.5L474.2 176.5L475.1 179.5L476.1 177.8L477 178.8L477 179.7Z" fill="#cccccc" stroke="none"/>
<path d="M393.8 176.8L394.1 176.5L394.5 176.8L394.8 175.3L395.1 175.8L395.4 176.5L395.8 176.1L396.1 179.5L397.2 177.7L397.6 176.7L397.9 175.9L398.2 176.1L398.5 179.5L399.6 177.2L400.7 176.8L401 175.6L401.3 175.8L401.6 177.1L401.9 175.9L402.2 179.5L403.1 176.3L404 179.5L404 176.1L404.3 176.1L404.6 179.5L405.5 177.2L406.3 179.5L406.8 176.6L407.1 175L407.4 175.8L407.7 176.8L408 175.9L408.3 179.5L409.4 177.9L410.1 176.1L410.4 176.1L410.8 177.3L411.1 175.9L411.4 176.4L411.7 175.8L412 179.5L413.1 177.4L413.3 176.6L413.6 175.4L414 173.4L414.3 174.6L414.7 172.7L415.1 172.2L415.4 174.7L415.8 174.7L416.1 174.4L416.4 176.3L416.7 176.1L417 172.8L417.2 172.4L417.5 170L417.8 165L418.1 166.5L418.3 161.3L418.5 162.4L418.7 168L418.9 172.6L419.1 172.7L419.5 169.2L419.8 168.7L420.1 169.4L420.5 165.3L420.7 165.3L421 168.7L421.2 171.9L421.4 171.4L421.8 168.6L422.1 169L422.4 168.7L422.8 167.3L423.1 164.2L423.5 166.8L423.8 164.6L424.2 161.6L424.5 164.5L424.8 162L425.1 160.9L425.5 164.6L425.8 167L426.1 166.7L426.5 163.4L426.8 163.3L427.1 164.1L427.5 160.6L427.8 156.5L428.1 159.4L428.4 155.2L428.7 152.5L429 155.2L429.2 150.5L429.5 151L429.8 155.2L430 158.8L430.2 159.3L430.5 153.5L430.9 155.8L431.2 151.2L431.6 147L431.9 149.1L432.2 143.1L432.5 142.9L432.9 145.5L433.2 148.2L433.5 147.2L433.9 145.7L434.2 149.8L434.5 153.3L434.9 152.5L435.2 148L435.6 150.3L436 147.8L436.3 142.3L436.6 148.3L436.9 143.1L437.2 140.5L437.6 146.1L437.9 149.2L438.2 148.5L438.6 144.5L438.9 147.4L439.3 148.6L439.6 147.2L439.8 147.1L440 152.5L440.3 157.2L440.5 153.7L440.7 147.2L440.9 139.1L441.3 135.9L441.6 141.1L441.9 145.6L442.3 142.4L442.6 136L443 136.4L443.3 138.2L443.6 131L443.9 125.4L444.1 124L444.4 126.1L444.7 116.3L445 115.9L445.4 122L445.7 128.3L446 126L446.4 118.8L446.7 119L447 119.8L447.3 113L447.6 110.6L448 120L448.3 125.7L448.6 125L448.9 123.7L449.2 128L449.4 132.8L449.7 131L450 130.9L450.4 137.7L450.7 145.3L451 144.5L451.4 145.4L451.7 148.5L452 151.6L452.4 152.5L452.6 150.7L452.9 155.5L453.2 159.2L453.5 157.9L453.7 149.4L454 147.2L454.2 145.5L454.4 139.1L454.6 141.2L454.8 151.2L455.1 161.3L455.4 161.3L455.7 156.6L456.1 152L456.4 152.5L456.8 149.7L457.1 144.5L457.4 136.4L457.8 136.4L458.1 142.6L458.4 141.1L458.8 140.7L459.1 144.5L459.4 144.7L459.8 137.7L460.1 133.2L460.5 131L460.8 131L461.1 118L461.3 104L461.5 93.4L461.8 104L462 118L462.3 131L462.6 137.8L462.9 139.1L463.1 147.2L463.4 164.6L463.5 176.8L463.8 174.3L464.1 174.1L464.3 174.6L464.5 172.7L464.8 173.5L465 176.1L465.3 179.5L466.4 176.7L467.3 179.5L468.5 177.5L469.5 179.5L470.4 177.3L471.3 179.5L472.2 177.4L473.2 179.5L474.2 176.5L475.1 179.5L476.1 177.8L477 178.8" fill="none" stroke="#0a0a0a" stroke-width="0.95" stroke-linejoin="miter" stroke-miterlimit="5"/>
<path d="M392.2 60.4L393.6 60.4L393.6 179.7L478.2 179.7" fill="none" stroke="#1a1a1a" stroke-width="1"/>
<path d="M392.7 150L393.6 150" stroke="#444" stroke-width="0.7"/>
<path d="M392.7 120.2L393.6 120.2" stroke="#444" stroke-width="0.7"/>
<path d="M392.7 90.5L393.6 90.5" stroke="#444" stroke-width="0.7"/>
<path d="M393.6 179.7L393.6 181M400 179.7L400 180.5M403.7 179.7L403.7 180.5M406.3 179.7L406.3 180.5M408.4 179.7L408.4 180.5M410.1 179.7L410.1 180.5M411.5 179.7L411.5 180.5M412.7 179.7L412.7 180.5M413.8 179.7L413.8 180.5M414.8 179.7L414.8 181M421.1 179.7L421.1 180.5M424.8 179.7L424.8 180.5M427.5 179.7L427.5 180.5M429.5 179.7L429.5 180.5M431.2 179.7L431.2 180.5M432.6 179.7L432.6 180.5M433.9 179.7L433.9 180.5M434.9 179.7L434.9 180.5M435.9 179.7L435.9 181M442.3 179.7L442.3 180.5M446 179.7L446 180.5M448.6 179.7L448.6 180.5M450.7 179.7L450.7 180.5M452.4 179.7L452.4 180.5M453.8 179.7L453.8 180.5M455 179.7L455 180.5M456.1 179.7L456.1 180.5M457.1 179.7L457.1 181M463.4 179.7L463.4 180.5M467.1 179.7L467.1 180.5M469.8 179.7L469.8 180.5M471.8 179.7L471.8 180.5M473.5 179.7L473.5 180.5M474.9 179.7L474.9 180.5M476.2 179.7L476.2 180.5M477.2 179.7L477.2 180.5M478.2 179.7L478.2 181" stroke="#333" stroke-width="0.6" fill="none"/>
<text x="385.6" y="192.2" font-size="11.3" letter-spacing="-0.5" stroke="#111" stroke-width="0.4">10<tspan font-size="8.4" dy="-4.2" dx="-0.1" stroke-width="0.25">0</tspan></text>
<text x="406.8" y="192.2" font-size="11.3" letter-spacing="-0.5" stroke="#111" stroke-width="0.4">10<tspan font-size="8.4" dy="-4.2" dx="-0.1" stroke-width="0.25">1</tspan></text>
<text x="427.9" y="192.2" font-size="11.3" letter-spacing="-0.5" stroke="#111" stroke-width="0.4">10<tspan font-size="8.4" dy="-4.2" dx="-0.1" stroke-width="0.25">2</tspan></text>
<text x="449.1" y="192.2" font-size="11.3" letter-spacing="-0.5" stroke="#111" stroke-width="0.4">10<tspan font-size="8.4" dy="-4.2" dx="-0.1" stroke-width="0.25">3</tspan></text>
<text x="470.2" y="192.2" font-size="11.3" letter-spacing="-0.5" stroke="#111" stroke-width="0.4">10<tspan font-size="8.4" dy="-4.2" dx="-0.1" stroke-width="0.25">4</tspan></text>
<text transform="translate(390.9 179.6) rotate(-90)" font-size="11.6" text-anchor="middle" stroke="#111" stroke-width="0.3">0</text>
<text transform="translate(391 61) rotate(-90)" font-size="11.7" text-anchor="middle" letter-spacing="-0.3" stroke="#111" stroke-width="0.3">32</text>
<text transform="translate(439.6 79) scale(0.976 1)" font-size="15.65" stroke="#111" stroke-width="0.35">82%</text>
<path d="M435.7 90.5L477.5 90.5M436 89.2L436 91.8M477.2 89.2L477.2 91.8" stroke="#3a3a3a" stroke-width="0.9" fill="none"/>
<text x="464.1" y="88.3" font-size="7.5" fill="#111" stroke="#111" stroke-width="0.15">M1</text>
<path d="M12.8 362L12.7 352.9L12.9 348.1L13.2 347.4L13.4 348.2L13.6 343.7L13.9 342.8L14.1 344.8L14.4 341.2L14.6 344.1L14.9 346.8L15.1 342.6L15.4 344.6L15.6 347.3L15.9 344.7L16.1 348.3L16.3 349.8L16.6 348.2L16.8 351.1L17.1 352.6L17.3 347.2L17.6 348.9L17.9 350.3L18.1 347.4L18.4 347.3L18.7 348.5L18.9 349.3L19.2 347L19.4 349.2L19.7 349.6L19.9 342.4L20.2 342.3L20.4 342.8L20.6 334.9L20.9 336.4L21.1 337.2L21.4 335L21.6 335.6L21.9 338.7L22.1 331.8L22.4 335.4L22.6 341.1L22.9 338.1L23.1 342.8L23.4 347.7L23.7 349.2L23.9 346.6L24.1 347.2L24.4 344.1L24.7 340.1L24.9 340L25.2 343.7L25.4 338.8L25.7 341.1L25.9 343.7L26.2 338.9L26.4 341.9L26.7 342.3L27 335.8L27.3 337.5L27.6 337.6L28 333.3L28.3 333.6L28.6 334.7L28.9 327.6L29.2 328.3L29.5 328.4L29.8 320.8L30.1 323.5L30.3 326L30.6 313.7L30.8 316.1L31.1 317.9L31.4 309.7L31.7 310.7L31.9 318.9L32.2 325.5L32.5 327.1L32.7 318.4L33 320.8L33.2 314.3L33.5 303.9L33.8 303.2L34 309.4L34.3 302.9L34.5 309.1L34.8 314.9L35.1 314.3L35.3 308.8L35.6 306L35.9 307.7L36.2 298.6L36.4 296.7L36.7 300.6L36.9 299.2L37.2 295.5L37.5 299.5L37.7 310.5L38 309.1L38.2 312.4L38.4 317.9L38.6 319.9L38.9 310.8L39.1 313.9L39.4 317.7L39.7 310.6L39.9 311.9L40.2 320.6L40.4 318.3L40.7 318.8L40.9 327.7L41.1 325.3L41.4 323.3L41.6 325.3L41.9 322.7L42.1 319.8L42.4 325.2L42.6 320.7L42.9 318.2L43.1 322.1L43.4 321.3L43.6 319.7L43.9 321.6L44.2 325.3L44.4 323.5L44.6 329.9L44.9 333.6L45.1 332.1L45.4 337.3L45.6 339.4L45.9 332.6L46.1 333.8L46.4 335.7L46.7 330.8L46.9 329L47.2 335.6L47.4 335.6L47.7 334.2L47.9 342L48.1 340L48.4 333.7L48.7 332.3L48.9 333L49.1 325.3L49.3 325L49.6 334.5L49.8 334.9L50.1 336.2L50.4 343.7L50.6 347.4L50.8 344.4L51.1 345.7L51.3 348.4L51.6 345.7L51.8 347.4L52.1 347.5L52.3 342.1L52.6 343.4L52.8 343.9L53.1 340L53.4 341.2L53.6 345.3L53.9 345.6L54.1 347.2L54.4 350.2L54.7 350.3L54.9 346.2L55.1 348.1L55.4 348.8L55.6 346.1L55.9 346.5L56.1 347.5L56.4 343.8L56.6 345L56.9 346.9L57.1 342.4L57.4 343.7L57.6 346L57.8 343.9L58.1 347.2L58.4 349.5L58.6 350.2L58.9 347.5L59.1 350.9L59.4 348.5L59.7 346.5L59.9 347.4L60.2 349.7L60.4 347.9L60.7 350.4L60.9 352.1L61.2 351.4L61.4 352.9L61.7 354L61.9 349.4L62.1 349.1L62.4 350.1L62.6 344.3L62.9 345.6L63.1 345.6L63.4 339.3L63.6 340.8L63.9 340L64.2 336.4L64.4 337.7L64.7 342.1L64.9 343.2L65.2 345.2L65.5 349.2L65.7 350.2L65.9 345L66.2 345.4L66.4 347.1L66.7 341.4L66.9 341.9L67.2 344.4L67.4 343.3L67.7 345.7L67.9 347.7L68.2 345.4L68.4 349.2L68.7 349.2L68.9 346.3L69.1 346.3L69.4 346.6L69.7 343.7L69.9 341.8L70.2 346.5L70.4 346.7L70.7 347.4L71 349.2L71.2 349.5L71.5 346L71.7 346.7L72 347.9L72.2 344.1L72.5 344.6L72.7 347.8L72.9 344.5L73.2 347.6L73.4 350.5L73.7 347.9L73.9 350.2L74.2 350.6L74.4 345.2L74.7 345.4L74.9 346.3L75.2 341L75.5 338.6L75.7 342.4L76 340.4L76.2 338.5L76.5 340L76.8 343.6L77 341.9L77.2 345.4L77.5 349.7L77.7 347.9L78 350.2L78.2 351.8L78.5 349.2L78.7 351.6L79 353.3L79.2 350.3L79.5 352.9L79.7 351.9L79.9 349.1L80.2 348.1L80.5 348.1L80.7 343.7L81 344.2L81.3 348.5L81.5 352.1L81.7 352.9L81.9 352.3L82.2 356.2L82.4 355.9L82.6 355.3L82.9 358.9L83.1 358.5L83.4 357L83.6 358L83.9 356.1L84.2 353.7L84.4 353.9L84.7 355.7L84.9 354.4L85.2 355.9L85.4 357.1L85.7 357.5L86 357.4L86.2 358.4L86.5 358.1L86.7 357L86.9 361.8L87.9 359.9L89 361.8L89.9 359.6L90.9 361.8L91.9 359.9L92.9 361.8L94 358.8L95 361.8L95.5 358.8L95.8 353.5L96 351.1L96.3 355.5L96.6 356.6L96.8 360.7L96.8 362Z" fill="#cccccc" stroke="none"/>
<path d="M12.7 352.9L12.9 348.1L13.2 347.4L13.4 348.2L13.6 343.7L13.9 342.8L14.1 344.8L14.4 341.2L14.6 344.1L14.9 346.8L15.1 342.6L15.4 344.6L15.6 347.3L15.9 344.7L16.1 348.3L16.3 349.8L16.6 348.2L16.8 351.1L17.1 352.6L17.3 347.2L17.6 348.9L17.9 350.3L18.1 347.4L18.4 347.3L18.7 348.5L18.9 349.3L19.2 347L19.4 349.2L19.7 349.6L19.9 342.4L20.2 342.3L20.4 342.8L20.6 334.9L20.9 336.4L21.1 337.2L21.4 335L21.6 335.6L21.9 338.7L22.1 331.8L22.4 335.4L22.6 341.1L22.9 338.1L23.1 342.8L23.4 347.7L23.7 349.2L23.9 346.6L24.1 347.2L24.4 344.1L24.7 340.1L24.9 340L25.2 343.7L25.4 338.8L25.7 341.1L25.9 343.7L26.2 338.9L26.4 341.9L26.7 342.3L27 335.8L27.3 337.5L27.6 337.6L28 333.3L28.3 333.6L28.6 334.7L28.9 327.6L29.2 328.3L29.5 328.4L29.8 320.8L30.1 323.5L30.3 326L30.6 313.7L30.8 316.1L31.1 317.9L31.4 309.7L31.7 310.7L31.9 318.9L32.2 325.5L32.5 327.1L32.7 318.4L33 320.8L33.2 314.3L33.5 303.9L33.8 303.2L34 309.4L34.3 302.9L34.5 309.1L34.8 314.9L35.1 314.3L35.3 308.8L35.6 306L35.9 307.7L36.2 298.6L36.4 296.7L36.7 300.6L36.9 299.2L37.2 295.5L37.5 299.5L37.7 310.5L38 309.1L38.2 312.4L38.4 317.9L38.6 319.9L38.9 310.8L39.1 313.9L39.4 317.7L39.7 310.6L39.9 311.9L40.2 320.6L40.4 318.3L40.7 318.8L40.9 327.7L41.1 325.3L41.4 323.3L41.6 325.3L41.9 322.7L42.1 319.8L42.4 325.2L42.6 320.7L42.9 318.2L43.1 322.1L43.4 321.3L43.6 319.7L43.9 321.6L44.2 325.3L44.4 323.5L44.6 329.9L44.9 333.6L45.1 332.1L45.4 337.3L45.6 339.4L45.9 332.6L46.1 333.8L46.4 335.7L46.7 330.8L46.9 329L47.2 335.6L47.4 335.6L47.7 334.2L47.9 342L48.1 340L48.4 333.7L48.7 332.3L48.9 333L49.1 325.3L49.3 325L49.6 334.5L49.8 334.9L50.1 336.2L50.4 343.7L50.6 347.4L50.8 344.4L51.1 345.7L51.3 348.4L51.6 345.7L51.8 347.4L52.1 347.5L52.3 342.1L52.6 343.4L52.8 343.9L53.1 340L53.4 341.2L53.6 345.3L53.9 345.6L54.1 347.2L54.4 350.2L54.7 350.3L54.9 346.2L55.1 348.1L55.4 348.8L55.6 346.1L55.9 346.5L56.1 347.5L56.4 343.8L56.6 345L56.9 346.9L57.1 342.4L57.4 343.7L57.6 346L57.8 343.9L58.1 347.2L58.4 349.5L58.6 350.2L58.9 347.5L59.1 350.9L59.4 348.5L59.7 346.5L59.9 347.4L60.2 349.7L60.4 347.9L60.7 350.4L60.9 352.1L61.2 351.4L61.4 352.9L61.7 354L61.9 349.4L62.1 349.1L62.4 350.1L62.6 344.3L62.9 345.6L63.1 345.6L63.4 339.3L63.6 340.8L63.9 340L64.2 336.4L64.4 337.7L64.7 342.1L64.9 343.2L65.2 345.2L65.5 349.2L65.7 350.2L65.9 345L66.2 345.4L66.4 347.1L66.7 341.4L66.9 341.9L67.2 344.4L67.4 343.3L67.7 345.7L67.9 347.7L68.2 345.4L68.4 349.2L68.7 349.2L68.9 346.3L69.1 346.3L69.4 346.6L69.7 343.7L69.9 341.8L70.2 346.5L70.4 346.7L70.7 347.4L71 349.2L71.2 349.5L71.5 346L71.7 346.7L72 347.9L72.2 344.1L72.5 344.6L72.7 347.8L72.9 344.5L73.2 347.6L73.4 350.5L73.7 347.9L73.9 350.2L74.2 350.6L74.4 345.2L74.7 345.4L74.9 346.3L75.2 341L75.5 338.6L75.7 342.4L76 340.4L76.2 338.5L76.5 340L76.8 343.6L77 341.9L77.2 345.4L77.5 349.7L77.7 347.9L78 350.2L78.2 351.8L78.5 349.2L78.7 351.6L79 353.3L79.2 350.3L79.5 352.9L79.7 351.9L79.9 349.1L80.2 348.1L80.5 348.1L80.7 343.7L81 344.2L81.3 348.5L81.5 352.1L81.7 352.9L81.9 352.3L82.2 356.2L82.4 355.9L82.6 355.3L82.9 358.9L83.1 358.5L83.4 357L83.6 358L83.9 356.1L84.2 353.7L84.4 353.9L84.7 355.7L84.9 354.4L85.2 355.9L85.4 357.1L85.7 357.5L86 357.4L86.2 358.4L86.5 358.1L86.7 357L86.9 361.8L87.9 359.9L89 361.8L89.9 359.6L90.9 361.8L91.9 359.9L92.9 361.8L94 358.8L95 361.8L95.5 358.8L95.8 353.5L96 351.1L96.3 355.5L96.6 356.6L96.8 360.7" fill="none" stroke="#0a0a0a" stroke-width="0.95" stroke-linejoin="miter" stroke-miterlimit="5"/>
<path d="M11.1 242.7L12.5 242.7L12.5 362L97.1 362" fill="none" stroke="#1a1a1a" stroke-width="1"/>
<path d="M13.3 297L13.3 362" stroke="#111" stroke-width="1" fill="none"/>
<path d="M11.6 332.2L12.5 332.2" stroke="#444" stroke-width="0.7"/>
<path d="M11.6 302.5L12.5 302.5" stroke="#444" stroke-width="0.7"/>
<path d="M11.6 272.8L12.5 272.8" stroke="#444" stroke-width="0.7"/>
<path d="M12.5 362L12.5 363.3M18.9 362L18.9 362.8M22.6 362L22.6 362.8M25.2 362L25.2 362.8M27.3 362L27.3 362.8M29 362L29 362.8M30.4 362L30.4 362.8M31.6 362L31.6 362.8M32.7 362L32.7 362.8M33.6 362L33.6 363.3M40 362L40 362.8M43.7 362L43.7 362.8M46.4 362L46.4 362.8M48.4 362L48.4 362.8M50.1 362L50.1 362.8M51.5 362L51.5 362.8M52.8 362L52.8 362.8M53.8 362L53.8 362.8M54.8 362L54.8 363.3M61.2 362L61.2 362.8M64.9 362L64.9 362.8M67.5 362L67.5 362.8M69.6 362L69.6 362.8M71.3 362L71.3 362.8M72.7 362L72.7 362.8M73.9 362L73.9 362.8M75 362L75 362.8M75.9 362L75.9 363.3M82.3 362L82.3 362.8M86 362L86 362.8M88.7 362L88.7 362.8M90.7 362L90.7 362.8M92.4 362L92.4 362.8M93.8 362L93.8 362.8M95.1 362L95.1 362.8M96.1 362L96.1 362.8M97.1 362L97.1 363.3" stroke="#333" stroke-width="0.6" fill="none"/>
<text x="4.5" y="374.5" font-size="11.3" letter-spacing="-0.5" stroke="#111" stroke-width="0.4">10<tspan font-size="8.4" dy="-4.2" dx="-0.1" stroke-width="0.25">0</tspan></text>
<text x="25.6" y="374.5" font-size="11.3" letter-spacing="-0.5" stroke="#111" stroke-width="0.4">10<tspan font-size="8.4" dy="-4.2" dx="-0.1" stroke-width="0.25">1</tspan></text>
<text x="46.8" y="374.5" font-size="11.3" letter-spacing="-0.5" stroke="#111" stroke-width="0.4">10<tspan font-size="8.4" dy="-4.2" dx="-0.1" stroke-width="0.25">2</tspan></text>
<text x="67.9" y="374.5" font-size="11.3" letter-spacing="-0.5" stroke="#111" stroke-width="0.4">10<tspan font-size="8.4" dy="-4.2" dx="-0.1" stroke-width="0.25">3</tspan></text>
<text x="89.1" y="374.5" font-size="11.3" letter-spacing="-0.5" stroke="#111" stroke-width="0.4">10<tspan font-size="8.4" dy="-4.2" dx="-0.1" stroke-width="0.25">4</tspan></text>
<text transform="translate(9.8 361.9) rotate(-90)" font-size="11.6" text-anchor="middle" stroke="#111" stroke-width="0.3">0</text>
<text transform="translate(9.9 243.3) rotate(-90)" font-size="11.7" text-anchor="middle" letter-spacing="-0.3" stroke="#111" stroke-width="0.3">32</text>
<text transform="translate(60.8 261.6) scale(0.976 1)" font-size="15.65" stroke="#111" stroke-width="0.35">20%</text>
<path d="M54.3 273.5L96.2 273.5M54.6 272.2L54.6 274.8M95.9 272.2L95.9 274.8" stroke="#3a3a3a" stroke-width="0.9" fill="none"/>
<text x="83" y="270.8" font-size="7.5" fill="#111" stroke="#111" stroke-width="0.15">M1</text>
<path d="M145.9 362.8L145.8 360.4L145.9 352.7L146.2 354.6L146.5 358.2L146.7 359.2L147 359.1L147.2 362.6L148.2 360.6L148.5 359.3L148.8 358L149.1 360.2L149.4 357.9L149.7 360.5L150 359.1L150.3 359.2L150.6 362.6L151.7 359.9L152.6 362.6L153.4 359.7L154.4 362.6L155.5 360L155.8 359.1L156.1 360.2L156.4 358.5L156.7 356.7L157 357.7L157.3 356.3L157.6 356.3L157.9 357.9L158.2 357.8L158.5 356.6L158.8 358.5L159.1 358.2L159.4 356.5L159.7 358.2L160 356L160.3 355.1L160.6 355.8L160.9 354.5L161.2 352.6L161.4 354.9L161.7 353L161.9 351.3L162.2 354.6L162.4 351.8L162.6 352.1L162.9 355.7L163.1 354.9L163.4 355.2L163.7 357.2L163.9 357.3L164.2 354.9L164.4 354.5L164.7 354.8L165 352.7L165.2 352.3L165.4 356.2L165.7 355.6L165.9 355.7L166.2 358.2L166.4 358.2L166.7 355.4L166.9 355.9L167.2 354.1L167.4 351.3L167.6 353.7L167.9 350.8L168.1 349.5L168.4 350.4L168.6 349.4L168.9 346.9L169.2 348.1L169.4 349.9L169.7 349.3L169.9 350.7L170.2 354L170.4 352.7L170.7 350.3L170.9 352.7L171.2 350.7L171.4 349.5L171.7 352L171.9 349L172.2 346.2L172.5 349.8L172.8 346.5L173.1 343.8L173.4 347.4L173.7 344.4L174 341.4L174.2 344.3L174.5 342.4L174.7 340.5L175 342.1L175.2 340.8L175.4 339.9L175.7 344.4L175.9 344.3L176.2 344.9L176.5 347.2L176.7 350.3L177 347.4L177.2 349.2L177.5 350.6L177.7 348.6L177.9 350.8L178.2 350.5L178.4 345.1L178.7 345.9L178.9 345.5L179.2 341.7L179.5 341.7L179.7 344.5L180 343.7L180.2 342.6L180.4 346L180.7 345.4L180.9 342.9L181.2 344.9L181.4 342.8L181.7 338.9L182 340.8L182.2 343.6L182.4 337.2L182.7 340.2L182.9 342.8L183.2 337.1L183.4 339.9L183.7 339.7L183.9 332.6L184.2 334.4L184.4 334.1L184.7 329.8L184.9 325.7L185.2 331.1L185.4 329.3L185.7 325L185.9 333L186.2 328.9L186.4 331L186.7 338.5L186.9 337.7L187.2 339.1L187.4 345.4L187.7 347.3L187.9 343.5L188.2 346.5L188.5 348L188.7 347.2L189 342.8L189.2 345.3L189.5 339.9L189.7 335.1L189.9 336.5L190.2 333.5L190.4 331.1L190.7 333.3L190.9 331.5L191.2 329.4L191.5 329.8L191.7 333.6L192 334.4L192.3 334.4L192.6 338L192.8 338.7L193.1 333.6L193.3 336L193.6 337.9L193.8 334.4L194.1 333.9L194.3 338.5L194.6 337.3L194.8 336.2L195.1 340.1L195.3 339.9L195.6 338.4L195.9 341.9L196 344.9L196.2 343.5L196.5 337.4L196.7 337.5L197 328.9L197.2 318.2L197.5 315.2L197.8 327L198 329.8L198.2 333.9L198.4 343.5L198.7 343L198.9 337.6L199.1 336.8L199.4 335.1L199.7 330.7L199.9 329.2L200.2 337.7L200.4 336.6L200.7 336.2L200.9 342L201.2 341.7L201.4 337.2L201.6 342.8L201.9 338.2L202.1 334.9L202.4 337.9L202.6 335.3L202.9 331.9L203.1 336.8L203.4 332.7L203.6 328.7L203.9 330.7L204.1 332.5L204.4 329.7L204.6 331.8L204.9 333.2L205.2 332.6L205.4 328L205.7 328.7L205.9 325.3L206.2 321.1L206.4 323.1L206.6 318.9L206.9 319.3L207.2 324.3L207.4 331L207.6 328.9L207.8 322L208.1 319.4L208.3 319.8L208.5 310.6L208.7 309.6L209 320.5L209.2 321.6L209.5 322.2L209.7 331.6L210 328.2L210.3 321.6L210.6 313.5L210.8 312.5L211.1 315L211.3 300.2L211.6 303.3L211.9 306.2L212.1 296L212.4 287.6L212.6 290L212.9 287.7L213.3 282L213.6 275.2L213.9 276L214.1 280.4L214.3 271.6L214.7 276L215 284L215.2 284.1L215.4 290L215.6 295.5L215.8 296L216.1 314.3L216.4 321.9L216.7 332.6L217 338.7L217.2 342.6L217.4 345.6L217.6 350.8L217.9 353.2L218.1 351.6L218.3 354.1L218.6 355.6L218.9 356.3L219.2 354.4L219.4 354.1L219.6 355.1L219.8 352.7L220 352.2L220.3 355.6L220.5 356.3L220.8 356.8L221 359L221.3 359.1L221.5 358.1L221.8 362.6L222.7 359.5L223.5 359.3L223.7 359.1L224 362.6L225.1 360.4L225.9 362.6L226.9 360.6L227.7 359.6L227.9 358.8L228.2 357.2L228.4 355.3L228.6 355.4L228.8 358.4L228.9 359.1L229.1 361.4L229.1 362.8Z" fill="#cccccc" stroke="none"/>
<path d="M145.8 360.4L145.9 352.7L146.2 354.6L146.5 358.2L146.7 359.2L147 359.1L147.2 362.6L148.2 360.6L148.5 359.3L148.8 358L149.1 360.2L149.4 357.9L149.7 360.5L150 359.1L150.3 359.2L150.6 362.6L151.7 359.9L152.6 362.6L153.4 359.7L154.4 362.6L155.5 360L155.8 359.1L156.1 360.2L156.4 358.5L156.7 356.7L157 357.7L157.3 356.3L157.6 356.3L157.9 357.9L158.2 357.8L158.5 356.6L158.8 358.5L159.1 358.2L159.4 356.5L159.7 358.2L160 356L160.3 355.1L160.6 355.8L160.9 354.5L161.2 352.6L161.4 354.9L161.7 353L161.9 351.3L162.2 354.6L162.4 351.8L162.6 352.1L162.9 355.7L163.1 354.9L163.4 355.2L163.7 357.2L163.9 357.3L164.2 354.9L164.4 354.5L164.7 354.8L165 352.7L165.2 352.3L165.4 356.2L165.7 355.6L165.9 355.7L166.2 358.2L166.4 358.2L166.7 355.4L166.9 355.9L167.2 354.1L167.4 351.3L167.6 353.7L167.9 350.8L168.1 349.5L168.4 350.4L168.6 349.4L168.9 346.9L169.2 348.1L169.4 349.9L169.7 349.3L169.9 350.7L170.2 354L170.4 352.7L170.7 350.3L170.9 352.7L171.2 350.7L171.4 349.5L171.7 352L171.9 349L172.2 346.2L172.5 349.8L172.8 346.5L173.1 343.8L173.4 347.4L173.7 344.4L174 341.4L174.2 344.3L174.5 342.4L174.7 340.5L175 342.1L175.2 340.8L175.4 339.9L175.7 344.4L175.9 344.3L176.2 344.9L176.5 347.2L176.7 350.3L177 347.4L177.2 349.2L177.5 350.6L177.7 348.6L177.9 350.8L178.2 350.5L178.4 345.1L178.7 345.9L178.9 345.5L179.2 341.7L179.5 341.7L179.7 344.5L180 343.7L180.2 342.6L180.4 346L180.7 345.4L180.9 342.9L181.2 344.9L181.4 342.8L181.7 338.9L182 340.8L182.2 343.6L182.4 337.2L182.7 340.2L182.9 342.8L183.2 337.1L183.4 339.9L183.7 339.7L183.9 332.6L184.2 334.4L184.4 334.1L184.7 329.8L184.9 325.7L185.2 331.1L185.4 329.3L185.7 325L185.9 333L186.2 328.9L186.4 331L186.7 338.5L186.9 337.7L187.2 339.1L187.4 345.4L187.7 347.3L187.9 343.5L188.2 346.5L188.5 348L188.7 347.2L189 342.8L189.2 345.3L189.5 339.9L189.7 335.1L189.9 336.5L190.2 333.5L190.4 331.1L190.7 333.3L190.9 331.5L191.2 329.4L191.5 329.8L191.7 333.6L192 334.4L192.3 334.4L192.6 338L192.8 338.7L193.1 333.6L193.3 336L193.6 337.9L193.8 334.4L194.1 333.9L194.3 338.5L194.6 337.3L194.8 336.2L195.1 340.1L195.3 339.9L195.6 338.4L195.9 341.9L196 344.9L196.2 343.5L196.5 337.4L196.7 337.5L197 328.9L197.2 318.2L197.5 315.2L197.8 327L198 329.8L198.2 333.9L198.4 343.5L198.7 343L198.9 337.6L199.1 336.8L199.4 335.1L199.7 330.7L199.9 329.2L200.2 337.7L200.4 336.6L200.7 336.2L200.9 342L201.2 341.7L201.4 337.2L201.6 342.8L201.9 338.2L202.1 334.9L202.4 337.9L202.6 335.3L202.9 331.9L203.1 336.8L203.4 332.7L203.6 328.7L203.9 330.7L204.1 332.5L204.4 329.7L204.6 331.8L204.9 333.2L205.2 332.6L205.4 328L205.7 328.7L205.9 325.3L206.2 321.1L206.4 323.1L206.6 318.9L206.9 319.3L207.2 324.3L207.4 331L207.6 328.9L207.8 322L208.1 319.4L208.3 319.8L208.5 310.6L208.7 309.6L209 320.5L209.2 321.6L209.5 322.2L209.7 331.6L210 328.2L210.3 321.6L210.6 313.5L210.8 312.5L211.1 315L211.3 300.2L211.6 303.3L211.9 306.2L212.1 296L212.4 287.6L212.6 290L212.9 287.7L213.3 282L213.6 275.2L213.9 276L214.1 280.4L214.3 271.6L214.7 276L215 284L215.2 284.1L215.4 290L215.6 295.5L215.8 296L216.1 314.3L216.4 321.9L216.7 332.6L217 338.7L217.2 342.6L217.4 345.6L217.6 350.8L217.9 353.2L218.1 351.6L218.3 354.1L218.6 355.6L218.9 356.3L219.2 354.4L219.4 354.1L219.6 355.1L219.8 352.7L220 352.2L220.3 355.6L220.5 356.3L220.8 356.8L221 359L221.3 359.1L221.5 358.1L221.8 362.6L222.7 359.5L223.5 359.3L223.7 359.1L224 362.6L225.1 360.4L225.9 362.6L226.9 360.6L227.7 359.6L227.9 358.8L228.2 357.2L228.4 355.3L228.6 355.4L228.8 358.4L228.9 359.1L229.1 361.4" fill="none" stroke="#0a0a0a" stroke-width="0.95" stroke-linejoin="miter" stroke-miterlimit="5"/>
<path d="M144.2 243.5L145.6 243.5L145.6 362.8L230.2 362.8" fill="none" stroke="#1a1a1a" stroke-width="1"/>
<path d="M144.7 333.1L145.6 333.1" stroke="#444" stroke-width="0.7"/>
<path d="M144.7 303.3L145.6 303.3" stroke="#444" stroke-width="0.7"/>
<path d="M144.7 273.6L145.6 273.6" stroke="#444" stroke-width="0.7"/>
<path d="M145.6 362.8L145.6 364.1M152 362.8L152 363.6M155.7 362.8L155.7 363.6M158.3 362.8L158.3 363.6M160.4 362.8L160.4 363.6M162.1 362.8L162.1 363.6M163.5 362.8L163.5 363.6M164.7 362.8L164.7 363.6M165.8 362.8L165.8 363.6M166.8 362.8L166.8 364.1M173.1 362.8L173.1 363.6M176.8 362.8L176.8 363.6M179.5 362.8L179.5 363.6M181.5 362.8L181.5 363.6M183.2 362.8L183.2 363.6M184.6 362.8L184.6 363.6M185.9 362.8L185.9 363.6M186.9 362.8L186.9 363.6M187.9 362.8L187.9 364.1M194.3 362.8L194.3 363.6M198 362.8L198 363.6M200.6 362.8L200.6 363.6M202.7 362.8L202.7 363.6M204.4 362.8L204.4 363.6M205.8 362.8L205.8 363.6M207 362.8L207 363.6M208.1 362.8L208.1 363.6M209 362.8L209 364.1M215.4 362.8L215.4 363.6M219.1 362.8L219.1 363.6M221.8 362.8L221.8 363.6M223.8 362.8L223.8 363.6M225.5 362.8L225.5 363.6M226.9 362.8L226.9 363.6M228.2 362.8L228.2 363.6M229.2 362.8L229.2 363.6M230.2 362.8L230.2 364.1" stroke="#333" stroke-width="0.6" fill="none"/>
<text x="137.6" y="375.3" font-size="11.3" letter-spacing="-0.5" stroke="#111" stroke-width="0.4">10<tspan font-size="8.4" dy="-4.2" dx="-0.1" stroke-width="0.25">0</tspan></text>
<text x="158.8" y="375.3" font-size="11.3" letter-spacing="-0.5" stroke="#111" stroke-width="0.4">10<tspan font-size="8.4" dy="-4.2" dx="-0.1" stroke-width="0.25">1</tspan></text>
<text x="179.9" y="375.3" font-size="11.3" letter-spacing="-0.5" stroke="#111" stroke-width="0.4">10<tspan font-size="8.4" dy="-4.2" dx="-0.1" stroke-width="0.25">2</tspan></text>
<text x="201" y="375.3" font-size="11.3" letter-spacing="-0.5" stroke="#111" stroke-width="0.4">10<tspan font-size="8.4" dy="-4.2" dx="-0.1" stroke-width="0.25">3</tspan></text>
<text x="222.2" y="375.3" font-size="11.3" letter-spacing="-0.5" stroke="#111" stroke-width="0.4">10<tspan font-size="8.4" dy="-4.2" dx="-0.1" stroke-width="0.25">4</tspan></text>
<text transform="translate(142.9 362.7) rotate(-90)" font-size="11.6" text-anchor="middle" stroke="#111" stroke-width="0.3">0</text>
<text transform="translate(143 244.1) rotate(-90)" font-size="11.7" text-anchor="middle" letter-spacing="-0.3" stroke="#111" stroke-width="0.3">32</text>
<text transform="translate(193.6 262.5) scale(0.976 1)" font-size="15.65" stroke="#111" stroke-width="0.35">75%</text>
<path d="M187.1 274.5L229.1 274.5M187.4 273.2L187.4 275.8M228.8 273.2L228.8 275.8" stroke="#3a3a3a" stroke-width="0.9" fill="none"/>
<text x="216.4" y="271.8" font-size="7.5" fill="#111" stroke="#111" stroke-width="0.15">M1</text>
<path d="M272 363.8L271.9 361.1L271.9 356.3L272.1 357.5L272.3 359.6L272.5 363.6L273.5 361.8L274.1 360.4L274.4 360.2L274.7 363.6L275.8 360.6L276.8 360.9L277.1 360.2L277.4 363.6L278.3 361.4L279.4 363.6L280.5 361.2L281.4 363.6L282.5 361.1L282.6 360.8L282.9 360.2L283.2 359.9L283.5 363.6L284.5 360.4L285 360.9L285.3 360.1L285.5 361.7L285.8 360L286.1 359.7L286.4 361.6L286.7 359.9L286.9 360.4L287.2 361.1L287.5 357.6L287.9 358.2L288.2 359.6L288.5 358.3L288.8 359.3L289.1 360.1L289.4 358.9L289.7 360L290 360.6L290.3 358.4L290.6 358.3L290.9 358.4L291.2 357.2L291.5 357.2L291.8 358.4L292.1 356.9L292.4 358.3L292.7 359.3L293 357.9L293.3 359.1L293.6 359L293.9 356.6L294.3 357.4L294.6 357.9L294.9 355.5L295.2 356.3L295.5 356.9L295.8 355L296.1 356L296.4 357.5L296.7 354.8L297 355.4L297.2 354.9L297.5 351.2L297.7 351.9L298 352L298.2 348.4L298.5 349L298.7 352.2L298.9 349.2L299.2 350.7L299.5 351.8L299.7 351.8L300 349.3L300.2 352.2L300.5 350.1L300.7 348.6L301 350.7L301.2 349L301.4 345.9L301.7 348.5L301.9 347L302.2 345.3L302.5 345.4L302.7 347.4L303 343.6L303.2 347L303.5 348.5L303.7 344.9L303.9 348.1L304.2 348.1L304.4 344.7L304.7 345L304.9 345L305.2 342.6L305.5 340.6L305.7 346.2L306 343.7L306.2 343.1L306.4 345.6L306.7 344.4L306.9 342L307.2 343.2L307.4 340.4L307.7 337.2L308 337.1L308.2 340L308.4 337.5L308.7 339.7L308.9 342L309.2 338.3L309.4 341.7L309.7 343L309.9 336.5L310.2 337.7L310.4 339.3L310.7 334.4L310.9 331.1L311.2 334.6L311.4 333.3L311.7 330.8L311.9 334.8L312.2 332.6L312.3 328.1L312.5 327.1L312.7 329.3L312.9 322.5L313.2 324.2L313.4 328.9L313.6 332.8L313.8 334.4L314.1 332.6L314.4 338.4L314.5 341.4L314.7 341.7L315 332.9L315.3 331.6L315.5 330.7L315.6 322.5L315.9 325.8L316.2 334.4L316.4 341.6L316.6 344.4L316.8 341.9L317 345.4L317.3 341.9L317.5 339.6L317.8 343.7L318 339.9L318.3 339.9L318.5 342.9L318.7 342.4L319 339.9L319.2 345.1L319.5 344.4L319.7 342.4L320 343.5L320.2 341.3L320.5 339.4L320.8 339L321 343.4L321.2 338.9L321.5 343.3L321.7 345.8L322 343.7L322.2 347.2L322.5 346.9L322.7 341.8L323 342.3L323.2 341.3L323.5 338L323.7 335.4L324 339.9L324.2 336.4L324.5 334.8L324.7 337.6L325 335.3L325.2 334.4L325.5 337.2L325.7 336.4L326 335.7L326.2 337.1L326.5 339L326.7 334.3L327 334.6L327.2 336.1L327.5 329.4L327.7 332.6L327.9 334.1L328.2 330.7L328.4 331.5L328.7 333.4L329 330.7L329.2 326.1L329.5 332.2L329.7 328.7L330 326.4L330.3 327.1L330.5 326L330.8 317L331 310.8L331.2 307.9L331.5 316.6L331.7 321.6L331.9 325.7L332.1 334.4L332.4 335.2L332.6 328.5L332.9 321.8L333.2 323.4L333.4 326.2L333.7 318.2L333.9 319.4L334.2 322.4L334.5 316.1L334.7 309.2L335 312.1L335.2 312.4L335.4 308.8L335.6 306.2L335.7 314.6L335.9 319.8L336.2 317.2L336.5 312.1L336.7 305.4L336.8 305.1L337.1 305.4L337.4 301.1L337.6 296.8L337.8 297.8L338.1 300.9L338.4 294.9L338.7 296L339 286L339.2 286.7L339.4 275L339.6 265L339.8 262L340 262L340.2 248.6L340.4 249.1L340.6 262L340.9 282L341.1 296L341.2 307L341.5 317.1L341.8 323.4L342.1 327.7L342.3 339.9L342.5 347.8L342.7 352.7L343 353.1L343.2 354.5L343.5 356.1L343.7 353.5L344 355.4L344.2 355.9L344.5 353L344.7 354.7L345 356.8L345.2 352.9L345.4 354.5L345.7 356.6L345.9 355.5L346.2 356.5L346.4 358.2L346.7 357.2L346.9 358.2L347.1 359.9L347.4 357.7L347.6 359.3L347.9 361.1L348.2 360L348.5 359L348.8 363.6L349.9 361.3L350.9 360.5L351.2 360L351.5 360.7L351.8 360L352.1 358.4L352.4 360.3L352.8 358.3L353.1 357.5L353.4 359L353.7 357.2L353.9 356.3L354.2 357.3L354.4 356.1L354.7 355.2L354.9 355.4L355.1 358.2L355.3 359.1L355.5 361.8L355.5 363.8Z" fill="#cccccc" stroke="none"/>
<path d="M271.9 361.1L271.9 356.3L272.1 357.5L272.3 359.6L272.5 363.6L273.5 361.8L274.1 360.4L274.4 360.2L274.7 363.6L275.8 360.6L276.8 360.9L277.1 360.2L277.4 363.6L278.3 361.4L279.4 363.6L280.5 361.2L281.4 363.6L282.5 361.1L282.6 360.8L282.9 360.2L283.2 359.9L283.5 363.6L284.5 360.4L285 360.9L285.3 360.1L285.5 361.7L285.8 360L286.1 359.7L286.4 361.6L286.7 359.9L286.9 360.4L287.2 361.1L287.5 357.6L287.9 358.2L288.2 359.6L288.5 358.3L288.8 359.3L289.1 360.1L289.4 358.9L289.7 360L290 360.6L290.3 358.4L290.6 358.3L290.9 358.4L291.2 357.2L291.5 357.2L291.8 358.4L292.1 356.9L292.4 358.3L292.7 359.3L293 357.9L293.3 359.1L293.6 359L293.9 356.6L294.3 357.4L294.6 357.9L294.9 355.5L295.2 356.3L295.5 356.9L295.8 355L296.1 356L296.4 357.5L296.7 354.8L297 355.4L297.2 354.9L297.5 351.2L297.7 351.9L298 352L298.2 348.4L298.5 349L298.7 352.2L298.9 349.2L299.2 350.7L299.5 351.8L299.7 351.8L300 349.3L300.2 352.2L300.5 350.1L300.7 348.6L301 350.7L301.2 349L301.4 345.9L301.7 348.5L301.9 347L302.2 345.3L302.5 345.4L302.7 347.4L303 343.6L303.2 347L303.5 348.5L303.7 344.9L303.9 348.1L304.2 348.1L304.4 344.7L304.7 345L304.9 345L305.2 342.6L305.5 340.6L305.7 346.2L306 343.7L306.2 343.1L306.4 345.6L306.7 344.4L306.9 342L307.2 343.2L307.4 340.4L307.7 337.2L308 337.1L308.2 340L308.4 337.5L308.7 339.7L308.9 342L309.2 338.3L309.4 341.7L309.7 343L309.9 336.5L310.2 337.7L310.4 339.3L310.7 334.4L310.9 331.1L311.2 334.6L311.4 333.3L311.7 330.8L311.9 334.8L312.2 332.6L312.3 328.1L312.5 327.1L312.7 329.3L312.9 322.5L313.2 324.2L313.4 328.9L313.6 332.8L313.8 334.4L314.1 332.6L314.4 338.4L314.5 341.4L314.7 341.7L315 332.9L315.3 331.6L315.5 330.7L315.6 322.5L315.9 325.8L316.2 334.4L316.4 341.6L316.6 344.4L316.8 341.9L317 345.4L317.3 341.9L317.5 339.6L317.8 343.7L318 339.9L318.3 339.9L318.5 342.9L318.7 342.4L319 339.9L319.2 345.1L319.5 344.4L319.7 342.4L320 343.5L320.2 341.3L320.5 339.4L320.8 339L321 343.4L321.2 338.9L321.5 343.3L321.7 345.8L322 343.7L322.2 347.2L322.5 346.9L322.7 341.8L323 342.3L323.2 341.3L323.5 338L323.7 335.4L324 339.9L324.2 336.4L324.5 334.8L324.7 337.6L325 335.3L325.2 334.4L325.5 337.2L325.7 336.4L326 335.7L326.2 337.1L326.5 339L326.7 334.3L327 334.6L327.2 336.1L327.5 329.4L327.7 332.6L327.9 334.1L328.2 330.7L328.4 331.5L328.7 333.4L329 330.7L329.2 326.1L329.5 332.2L329.7 328.7L330 326.4L330.3 327.1L330.5 326L330.8 317L331 310.8L331.2 307.9L331.5 316.6L331.7 321.6L331.9 325.7L332.1 334.4L332.4 335.2L332.6 328.5L332.9 321.8L333.2 323.4L333.4 326.2L333.7 318.2L333.9 319.4L334.2 322.4L334.5 316.1L334.7 309.2L335 312.1L335.2 312.4L335.4 308.8L335.6 306.2L335.7 314.6L335.9 319.8L336.2 317.2L336.5 312.1L336.7 305.4L336.8 305.1L337.1 305.4L337.4 301.1L337.6 296.8L337.8 297.8L338.1 300.9L338.4 294.9L338.7 296L339 286L339.2 286.7L339.4 275L339.6 265L339.8 262L340 262L340.2 248.6L340.4 249.1L340.6 262L340.9 282L341.1 296L341.2 307L341.5 317.1L341.8 323.4L342.1 327.7L342.3 339.9L342.5 347.8L342.7 352.7L343 353.1L343.2 354.5L343.5 356.1L343.7 353.5L344 355.4L344.2 355.9L344.5 353L344.7 354.7L345 356.8L345.2 352.9L345.4 354.5L345.7 356.6L345.9 355.5L346.2 356.5L346.4 358.2L346.7 357.2L346.9 358.2L347.1 359.9L347.4 357.7L347.6 359.3L347.9 361.1L348.2 360L348.5 359L348.8 363.6L349.9 361.3L350.9 360.5L351.2 360L351.5 360.7L351.8 360L352.1 358.4L352.4 360.3L352.8 358.3L353.1 357.5L353.4 359L353.7 357.2L353.9 356.3L354.2 357.3L354.4 356.1L354.7 355.2L354.9 355.4L355.1 358.2L355.3 359.1L355.5 361.8" fill="none" stroke="#0a0a0a" stroke-width="0.95" stroke-linejoin="miter" stroke-miterlimit="5"/>
<path d="M270.3 244.5L271.7 244.5L271.7 363.8L356.3 363.8" fill="none" stroke="#1a1a1a" stroke-width="1"/>
<path d="M270.8 334.1L271.7 334.1" stroke="#444" stroke-width="0.7"/>
<path d="M270.8 304.3L271.7 304.3" stroke="#444" stroke-width="0.7"/>
<path d="M270.8 274.6L271.7 274.6" stroke="#444" stroke-width="0.7"/>
<path d="M271.7 363.8L271.7 365.1M278.1 363.8L278.1 364.6M281.8 363.8L281.8 364.6M284.4 363.8L284.4 364.6M286.5 363.8L286.5 364.6M288.2 363.8L288.2 364.6M289.6 363.8L289.6 364.6M290.8 363.8L290.8 364.6M291.9 363.8L291.9 364.6M292.8 363.8L292.8 365.1M299.2 363.8L299.2 364.6M302.9 363.8L302.9 364.6M305.6 363.8L305.6 364.6M307.6 363.8L307.6 364.6M309.3 363.8L309.3 364.6M310.7 363.8L310.7 364.6M312 363.8L312 364.6M313 363.8L313 364.6M314 363.8L314 365.1M320.4 363.8L320.4 364.6M324.1 363.8L324.1 364.6M326.7 363.8L326.7 364.6M328.8 363.8L328.8 364.6M330.5 363.8L330.5 364.6M331.9 363.8L331.9 364.6M333.1 363.8L333.1 364.6M334.2 363.8L334.2 364.6M335.1 363.8L335.1 365.1M341.5 363.8L341.5 364.6M345.2 363.8L345.2 364.6M347.9 363.8L347.9 364.6M349.9 363.8L349.9 364.6M351.6 363.8L351.6 364.6M353 363.8L353 364.6M354.3 363.8L354.3 364.6M355.3 363.8L355.3 364.6M356.3 363.8L356.3 365.1" stroke="#333" stroke-width="0.6" fill="none"/>
<text x="263.7" y="376.3" font-size="11.3" letter-spacing="-0.5" stroke="#111" stroke-width="0.4">10<tspan font-size="8.4" dy="-4.2" dx="-0.1" stroke-width="0.25">0</tspan></text>
<text x="284.8" y="376.3" font-size="11.3" letter-spacing="-0.5" stroke="#111" stroke-width="0.4">10<tspan font-size="8.4" dy="-4.2" dx="-0.1" stroke-width="0.25">1</tspan></text>
<text x="306" y="376.3" font-size="11.3" letter-spacing="-0.5" stroke="#111" stroke-width="0.4">10<tspan font-size="8.4" dy="-4.2" dx="-0.1" stroke-width="0.25">2</tspan></text>
<text x="327.1" y="376.3" font-size="11.3" letter-spacing="-0.5" stroke="#111" stroke-width="0.4">10<tspan font-size="8.4" dy="-4.2" dx="-0.1" stroke-width="0.25">3</tspan></text>
<text x="348.3" y="376.3" font-size="11.3" letter-spacing="-0.5" stroke="#111" stroke-width="0.4">10<tspan font-size="8.4" dy="-4.2" dx="-0.1" stroke-width="0.25">4</tspan></text>
<text transform="translate(269 363.7) rotate(-90)" font-size="11.6" text-anchor="middle" stroke="#111" stroke-width="0.3">0</text>
<text transform="translate(269.1 245.1) rotate(-90)" font-size="11.7" text-anchor="middle" letter-spacing="-0.3" stroke="#111" stroke-width="0.3">32</text>
<text transform="translate(320.4 262) scale(0.976 1)" font-size="15.65" stroke="#111" stroke-width="0.35">77%</text>
<path d="M313.5 274.5L355.3 274.5M313.8 273.2L313.8 275.8M355 273.2L355 275.8" stroke="#3a3a3a" stroke-width="0.9" fill="none"/>
<text x="342.9" y="272.1" font-size="7.5" fill="#111" stroke="#111" stroke-width="0.15">M1</text>
<path d="M394.1 365.1L394 362.7L394.1 350.8L394.3 354.7L394.5 360.4L394.7 361.9L395 360.5L395.2 364.9L396.1 363.2L396.9 364.9L398.1 362.7L399 364.9L399.9 361.8L400.9 364.9L402 362.9L403 364.9L403.3 361.8L403.6 361.4L403.9 360.1L404.2 361.3L404.4 359.4L404.7 360L405 360.4L405.2 357.9L405.5 358.5L405.8 360.6L406.1 359L406.4 360.4L406.7 360.9L407 358.2L407.3 358.2L407.6 359.8L407.9 358.6L408.2 360L408.5 360.4L408.8 358.3L409.1 359.1L409.4 359.4L409.7 357.3L410 357.8L410.3 359.6L410.6 357.5L410.9 359.1L411.2 359.4L411.5 357.6L411.9 358.2L412.2 360.2L412.5 358.8L412.8 360L413.1 360.6L413.4 358.6L413.7 359.1L414 359L414.3 356.2L414.6 356.3L414.9 357.3L415.2 353L415.5 354.1L415.8 355L416.1 350.1L416.4 350.5L416.7 352.9L416.9 351.4L417.2 354.5L417.4 356.4L417.6 353.9L417.9 356.3L418.1 357.7L418.4 356.1L418.6 357.2L418.9 356.9L419.2 353.7L419.5 354.9L419.8 355.4L420.1 351.2L420.4 350.8L420.7 353L421.1 348.4L421.4 350.1L421.7 353.1L422 350.1L422.3 353.6L422.5 355.4L422.8 353.7L423.1 357L423.4 357.2L423.7 354.7L424 355.1L424.3 352.7L424.6 350.2L424.9 351.8L425.2 349L425.5 346.5L425.8 349.3L426.1 347.2L426.4 347.1L426.7 351.8L427 350.5L427.3 349.4L427.6 355.1L427.9 354.1L428.2 349.9L428.4 351.8L428.7 349L429 344.4L429.3 347L429.6 343.9L429.9 341.3L430.2 346.9L430.5 345L430.8 341.4L431.1 344L431.4 341.3L431.7 339.2L432 343.4L432.3 339.9L432.6 338.1L432.8 345.5L433.1 343.9L433.3 341.2L433.5 342.5L433.8 338L434.1 336L434.4 340.5L434.7 339L434.9 335.7L435.2 338.2L435.4 336.6L435.7 334.4L435.9 336.9L436.2 335.3L436.4 330.6L436.7 336.5L436.9 332.2L437.2 334.9L437.4 339.9L437.7 344.7L438 348.1L438.2 344.9L438.5 347.3L438.7 343.9L439 341.6L439.3 346.3L439.6 346.3L439.9 342.9L440.2 346L440.6 341.7L440.9 340L441.2 346.7L441.5 345.4L441.7 338.4L442 336.2L442.3 332.7L442.6 320.7L442.8 323.5L443.1 332.6L443.4 340.2L443.7 340.8L443.9 337.6L444.1 339L444.4 335.3L444.7 336.6L444.9 344.4L445.2 350.3L445.5 350.5L445.7 344.2L446 346.1L446.2 339.9L446.5 334.2L446.7 336.8L447 331.6L447.2 330.1L447.4 331.9L447.7 330.4L447.9 327.7L448.2 332.2L448.4 328.9L448.7 327.8L449 335.3L449.2 339.7L449.5 339.5L449.8 335.5L450 340L450.2 336.6L450.5 334.7L450.7 339.1L451 335.3L451.2 331.3L451.5 336.3L451.7 332.6L451.9 324.9L452.2 329.5L452.4 321.6L452.7 320.3L453 324.3L453.3 331.2L453.5 328.9L453.8 323.2L454.1 319.8L454.4 317.1L454.6 309.7L454.9 313.7L455.2 321.6L455.5 327.2L455.7 329.8L456 325.8L456.2 332.3L456.5 328.9L456.7 325.6L457 330.7L457.3 328.8L457.5 320.9L457.7 317.9L458 316.5L458.2 308.5L458.5 307L458.7 316.7L459 316.1L459.3 305.8L459.6 303.3L459.8 302L460.1 296L460.4 290L460.6 280L460.8 268L461 246L461.3 243.6L461.5 254.7L461.8 246L462 254.1L462.2 268L462.5 285L462.8 296L462.9 305.1L463 314.8L463.2 323.4L463.4 331.6L463.6 341.7L463.8 348L464 350.8L464.2 351.8L464.5 354.5L464.8 357.5L465.1 356.3L465.3 351.4L465.6 349L465.9 350.8L466.1 347.6L466.4 345.6L466.7 350.2L467 345L467.2 347.2L467.5 348.9L467.8 344.6L468.1 350.1L468.3 347.7L468.5 349L468.7 354.5L468.9 358.6L469.1 359.1L469.3 358.4L469.6 360.9L469.8 360L470 358.3L470.3 359.3L470.5 358.2L470.8 358.2L471 360.3L471.3 360.4L471.6 359.7L471.9 364.9L472.8 362.3L473.6 362.2L473.9 361.4L474.2 361.4L474.5 364.9L475.4 362.4L476.6 364.9L477.3 362.9L477.3 365.1Z" fill="#cccccc" stroke="none"/>
<path d="M394 362.7L394.1 350.8L394.3 354.7L394.5 360.4L394.7 361.9L395 360.5L395.2 364.9L396.1 363.2L396.9 364.9L398.1 362.7L399 364.9L399.9 361.8L400.9 364.9L402 362.9L403 364.9L403.3 361.8L403.6 361.4L403.9 360.1L404.2 361.3L404.4 359.4L404.7 360L405 360.4L405.2 357.9L405.5 358.5L405.8 360.6L406.1 359L406.4 360.4L406.7 360.9L407 358.2L407.3 358.2L407.6 359.8L407.9 358.6L408.2 360L408.5 360.4L408.8 358.3L409.1 359.1L409.4 359.4L409.7 357.3L410 357.8L410.3 359.6L410.6 357.5L410.9 359.1L411.2 359.4L411.5 357.6L411.9 358.2L412.2 360.2L412.5 358.8L412.8 360L413.1 360.6L413.4 358.6L413.7 359.1L414 359L414.3 356.2L414.6 356.3L414.9 357.3L415.2 353L415.5 354.1L415.8 355L416.1 350.1L416.4 350.5L416.7 352.9L416.9 351.4L417.2 354.5L417.4 356.4L417.6 353.9L417.9 356.3L418.1 357.7L418.4 356.1L418.6 357.2L418.9 356.9L419.2 353.7L419.5 354.9L419.8 355.4L420.1 351.2L420.4 350.8L420.7 353L421.1 348.4L421.4 350.1L421.7 353.1L422 350.1L422.3 353.6L422.5 355.4L422.8 353.7L423.1 357L423.4 357.2L423.7 354.7L424 355.1L424.3 352.7L424.6 350.2L424.9 351.8L425.2 349L425.5 346.5L425.8 349.3L426.1 347.2L426.4 347.1L426.7 351.8L427 350.5L427.3 349.4L427.6 355.1L427.9 354.1L428.2 349.9L428.4 351.8L428.7 349L429 344.4L429.3 347L429.6 343.9L429.9 341.3L430.2 346.9L430.5 345L430.8 341.4L431.1 344L431.4 341.3L431.7 339.2L432 343.4L432.3 339.9L432.6 338.1L432.8 345.5L433.1 343.9L433.3 341.2L433.5 342.5L433.8 338L434.1 336L434.4 340.5L434.7 339L434.9 335.7L435.2 338.2L435.4 336.6L435.7 334.4L435.9 336.9L436.2 335.3L436.4 330.6L436.7 336.5L436.9 332.2L437.2 334.9L437.4 339.9L437.7 344.7L438 348.1L438.2 344.9L438.5 347.3L438.7 343.9L439 341.6L439.3 346.3L439.6 346.3L439.9 342.9L440.2 346L440.6 341.7L440.9 340L441.2 346.7L441.5 345.4L441.7 338.4L442 336.2L442.3 332.7L442.6 320.7L442.8 323.5L443.1 332.6L443.4 340.2L443.7 340.8L443.9 337.6L444.1 339L444.4 335.3L444.7 336.6L444.9 344.4L445.2 350.3L445.5 350.5L445.7 344.2L446 346.1L446.2 339.9L446.5 334.2L446.7 336.8L447 331.6L447.2 330.1L447.4 331.9L447.7 330.4L447.9 327.7L448.2 332.2L448.4 328.9L448.7 327.8L449 335.3L449.2 339.7L449.5 339.5L449.8 335.5L450 340L450.2 336.6L450.5 334.7L450.7 339.1L451 335.3L451.2 331.3L451.5 336.3L451.7 332.6L451.9 324.9L452.2 329.5L452.4 321.6L452.7 320.3L453 324.3L453.3 331.2L453.5 328.9L453.8 323.2L454.1 319.8L454.4 317.1L454.6 309.7L454.9 313.7L455.2 321.6L455.5 327.2L455.7 329.8L456 325.8L456.2 332.3L456.5 328.9L456.7 325.6L457 330.7L457.3 328.8L457.5 320.9L457.7 317.9L458 316.5L458.2 308.5L458.5 307L458.7 316.7L459 316.1L459.3 305.8L459.6 303.3L459.8 302L460.1 296L460.4 290L460.6 280L460.8 268L461 246L461.3 243.6L461.5 254.7L461.8 246L462 254.1L462.2 268L462.5 285L462.8 296L462.9 305.1L463 314.8L463.2 323.4L463.4 331.6L463.6 341.7L463.8 348L464 350.8L464.2 351.8L464.5 354.5L464.8 357.5L465.1 356.3L465.3 351.4L465.6 349L465.9 350.8L466.1 347.6L466.4 345.6L466.7 350.2L467 345L467.2 347.2L467.5 348.9L467.8 344.6L468.1 350.1L468.3 347.7L468.5 349L468.7 354.5L468.9 358.6L469.1 359.1L469.3 358.4L469.6 360.9L469.8 360L470 358.3L470.3 359.3L470.5 358.2L470.8 358.2L471 360.3L471.3 360.4L471.6 359.7L471.9 364.9L472.8 362.3L473.6 362.2L473.9 361.4L474.2 361.4L474.5 364.9L475.4 362.4L476.6 364.9L477.3 362.9" fill="none" stroke="#0a0a0a" stroke-width="0.95" stroke-linejoin="miter" stroke-miterlimit="5"/>
<path d="M392.4 245.8L393.8 245.8L393.8 365.1L478.4 365.1" fill="none" stroke="#1a1a1a" stroke-width="1"/>
<path d="M392.9 335.4L393.8 335.4" stroke="#444" stroke-width="0.7"/>
<path d="M392.9 305.6L393.8 305.6" stroke="#444" stroke-width="0.7"/>
<path d="M392.9 275.9L393.8 275.9" stroke="#444" stroke-width="0.7"/>
<path d="M393.8 365.1L393.8 366.4M400.2 365.1L400.2 365.9M403.9 365.1L403.9 365.9M406.5 365.1L406.5 365.9M408.6 365.1L408.6 365.9M410.3 365.1L410.3 365.9M411.7 365.1L411.7 365.9M412.9 365.1L412.9 365.9M414 365.1L414 365.9M414.9 365.1L414.9 366.4M421.3 365.1L421.3 365.9M425 365.1L425 365.9M427.7 365.1L427.7 365.9M429.7 365.1L429.7 365.9M431.4 365.1L431.4 365.9M432.8 365.1L432.8 365.9M434.1 365.1L434.1 365.9M435.1 365.1L435.1 365.9M436.1 365.1L436.1 366.4M442.5 365.1L442.5 365.9M446.2 365.1L446.2 365.9M448.8 365.1L448.8 365.9M450.9 365.1L450.9 365.9M452.6 365.1L452.6 365.9M454 365.1L454 365.9M455.2 365.1L455.2 365.9M456.3 365.1L456.3 365.9M457.2 365.1L457.2 366.4M463.6 365.1L463.6 365.9M467.3 365.1L467.3 365.9M470 365.1L470 365.9M472 365.1L472 365.9M473.7 365.1L473.7 365.9M475.1 365.1L475.1 365.9M476.4 365.1L476.4 365.9M477.4 365.1L477.4 365.9M478.4 365.1L478.4 366.4" stroke="#333" stroke-width="0.6" fill="none"/>
<text x="385.8" y="377.6" font-size="11.3" letter-spacing="-0.5" stroke="#111" stroke-width="0.4">10<tspan font-size="8.4" dy="-4.2" dx="-0.1" stroke-width="0.25">0</tspan></text>
<text x="406.9" y="377.6" font-size="11.3" letter-spacing="-0.5" stroke="#111" stroke-width="0.4">10<tspan font-size="8.4" dy="-4.2" dx="-0.1" stroke-width="0.25">1</tspan></text>
<text x="428.1" y="377.6" font-size="11.3" letter-spacing="-0.5" stroke="#111" stroke-width="0.4">10<tspan font-size="8.4" dy="-4.2" dx="-0.1" stroke-width="0.25">2</tspan></text>
<text x="449.2" y="377.6" font-size="11.3" letter-spacing="-0.5" stroke="#111" stroke-width="0.4">10<tspan font-size="8.4" dy="-4.2" dx="-0.1" stroke-width="0.25">3</tspan></text>
<text x="470.4" y="377.6" font-size="11.3" letter-spacing="-0.5" stroke="#111" stroke-width="0.4">10<tspan font-size="8.4" dy="-4.2" dx="-0.1" stroke-width="0.25">4</tspan></text>
<text transform="translate(391.1 365) rotate(-90)" font-size="11.6" text-anchor="middle" stroke="#111" stroke-width="0.3">0</text>
<text transform="translate(391.2 246.4) rotate(-90)" font-size="11.7" text-anchor="middle" letter-spacing="-0.3" stroke="#111" stroke-width="0.3">32</text>
<text transform="translate(441.7 265.8) scale(0.976 1)" font-size="15.65" stroke="#111" stroke-width="0.35">71%</text>
<path d="M435.6 277.5L477.5 277.5M435.9 276.2L435.9 278.8M477.2 276.2L477.2 278.8" stroke="#3a3a3a" stroke-width="0.9" fill="none"/>
<text x="464.9" y="274.4" font-size="7.5" fill="#111" stroke="#111" stroke-width="0.15">M1</text>
</g></svg>
</body></html>
